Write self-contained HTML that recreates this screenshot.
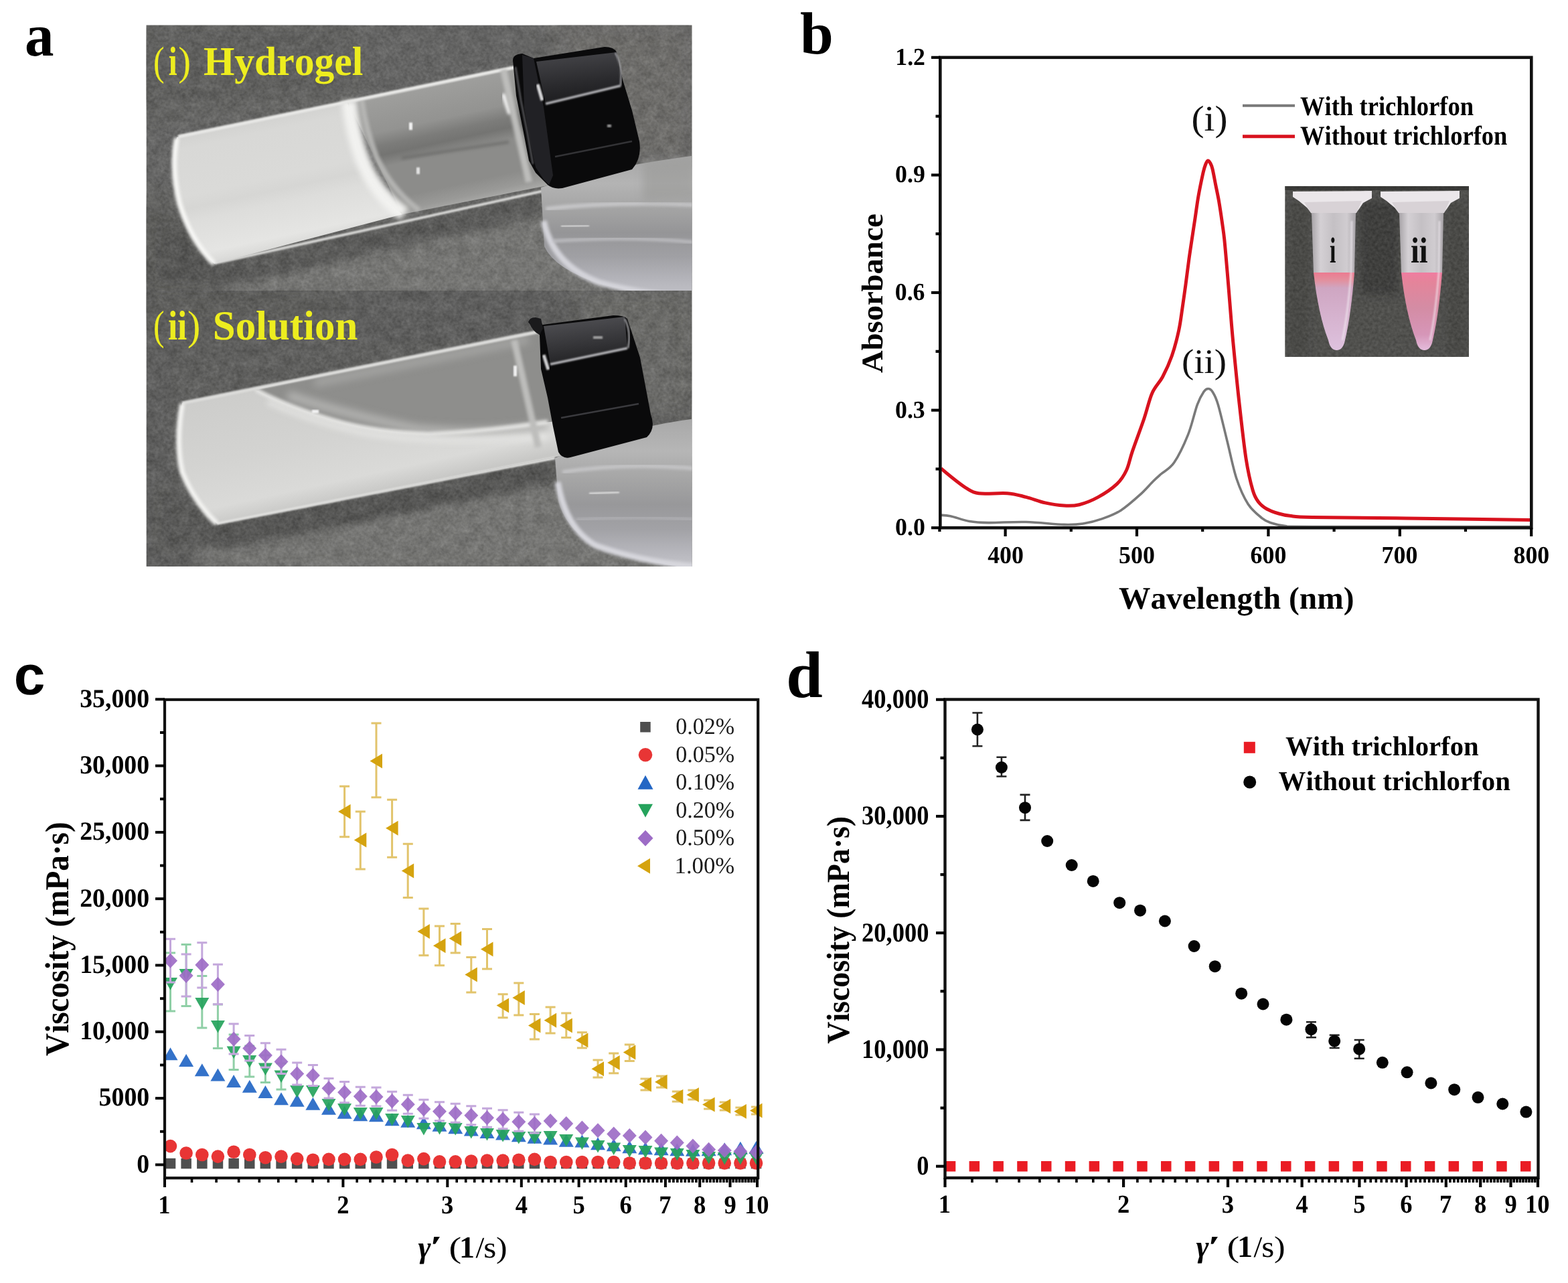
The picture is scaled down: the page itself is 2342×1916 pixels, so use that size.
<!DOCTYPE html>
<html><head><meta charset="utf-8"><title>Figure</title>
<style>html,body{margin:0;padding:0;background:#fff;width:2342px;height:1916px;overflow:hidden}</style>
</head><body>
<svg width="2342" height="1916" viewBox="0 0 2342 1916" style="display:block;font-kerning:none;text-rendering:geometricPrecision">
<rect width="2342" height="1916" fill="#fff"/>
<text x="37.1" y="83" font-family="Liberation Serif, serif" font-size="90" font-weight="700" fill="#000" textLength="43.5" lengthAdjust="spacingAndGlyphs">a</text>
<defs>
<clipPath id="cpA"><rect x="218.5" y="37.5" width="815.0" height="808.5"/></clipPath>
<clipPath id="cpTop"><rect x="218.5" y="37.5" width="815.0" height="396.5"/></clipPath>
<clipPath id="cpBot"><rect x="218.5" y="434" width="815.0" height="412"/></clipPath>
<filter id="blur1" color-interpolation-filters="sRGB" x="-20%" y="-20%" width="140%" height="140%"><feGaussianBlur stdDeviation="1.2"/></filter>
<filter id="blur2" color-interpolation-filters="sRGB" x="-20%" y="-20%" width="140%" height="140%"><feGaussianBlur stdDeviation="2"/></filter>
<filter id="blur4" color-interpolation-filters="sRGB" x="-30%" y="-30%" width="160%" height="160%"><feGaussianBlur stdDeviation="4"/></filter>
<filter id="blur6" color-interpolation-filters="sRGB" x="-30%" y="-30%" width="160%" height="160%"><feGaussianBlur stdDeviation="6"/></filter>
<filter id="blur14" color-interpolation-filters="sRGB" x="-50%" y="-50%" width="200%" height="200%"><feGaussianBlur stdDeviation="14"/></filter>
<filter id="noise" color-interpolation-filters="sRGB" x="0" y="0" width="100%" height="100%"><feTurbulence type="fractalNoise" baseFrequency="0.22" numOctaves="2" seed="7"/><feColorMatrix type="matrix" values="1 0 0 0 0  1 0 0 0 0  1 0 0 0 0  0 0 0 0 1"/></filter>
<filter id="noise2" color-interpolation-filters="sRGB" x="0" y="0" width="100%" height="100%"><feTurbulence type="fractalNoise" baseFrequency="0.06" numOctaves="3" seed="11"/><feColorMatrix type="matrix" values="1 0 0 0 0  1 0 0 0 0  1 0 0 0 0  0 0 0 0 1"/></filter>
<linearGradient id="gel1" gradientUnits="userSpaceOnUse" x1="265" y1="204" x2="306" y2="397"><stop offset="0" stop-color="#d2d2d0"/><stop offset="0.1" stop-color="#d8d8d6"/><stop offset="0.45" stop-color="#dadad8"/><stop offset="0.55" stop-color="#d6d6d4"/><stop offset="0.65" stop-color="#dddddb"/><stop offset="0.9" stop-color="#e5e5e3"/><stop offset="1" stop-color="#d8d8d6"/></linearGradient>
<linearGradient id="clr1" gradientUnits="userSpaceOnUse" x1="555" y1="138" x2="598" y2="335"><stop offset="0" stop-color="#c8c8c6"/><stop offset="0.06" stop-color="#9e9e9c"/><stop offset="0.3" stop-color="#939391"/><stop offset="0.4" stop-color="#7c7c7a"/><stop offset="0.47" stop-color="#747472"/><stop offset="0.56" stop-color="#8c8c8a"/><stop offset="0.8" stop-color="#8c8c8a"/><stop offset="0.9" stop-color="#9a9a98"/><stop offset="1" stop-color="#b8b8b6"/></linearGradient>
<linearGradient id="liq2" gradientUnits="userSpaceOnUse" x1="290" y1="600" x2="330" y2="785"><stop offset="0" stop-color="#cdcdcb"/><stop offset="0.5" stop-color="#d3d3d1"/><stop offset="0.85" stop-color="#dadad8"/><stop offset="1" stop-color="#c8c8c6"/></linearGradient>
<linearGradient id="dish" gradientUnits="userSpaceOnUse" x1="0" y1="232" x2="0" y2="442"><stop offset="0" stop-color="#a6a6a6"/><stop offset="0.2" stop-color="#b4b4b4"/><stop offset="0.38" stop-color="#a4a4a4"/><stop offset="0.55" stop-color="#959597"/><stop offset="0.72" stop-color="#a0a0a4"/><stop offset="0.88" stop-color="#b4b4ba"/><stop offset="1" stop-color="#c2c2c8"/></linearGradient>
<linearGradient id="dish2" gradientUnits="userSpaceOnUse" x1="0" y1="625" x2="0" y2="846"><stop offset="0" stop-color="#a8a8a8"/><stop offset="0.22" stop-color="#b6b6b6"/><stop offset="0.4" stop-color="#a6a6a6"/><stop offset="0.58" stop-color="#98989a"/><stop offset="0.75" stop-color="#a2a2a6"/><stop offset="0.9" stop-color="#b6b6bc"/><stop offset="1" stop-color="#c4c4ca"/></linearGradient>
<linearGradient id="capTop" gradientUnits="userSpaceOnUse" x1="860" y1="75" x2="870" y2="155"><stop offset="0" stop-color="#46464a"/><stop offset="0.6" stop-color="#2a2a2d"/><stop offset="1" stop-color="#1a1a1c"/></linearGradient>
<linearGradient id="capTop2" gradientUnits="userSpaceOnUse" x1="870" y1="472" x2="880" y2="545"><stop offset="0" stop-color="#505054"/><stop offset="0.6" stop-color="#333336"/><stop offset="1" stop-color="#1e1e20"/></linearGradient>
</defs>
<g clip-path="url(#cpA)">
<g clip-path="url(#cpTop)">
<rect x="218.5" y="37.5" width="815.0" height="396.5" fill="#5e5e5c"/>
<g filter="url(#blur14)">
<path d="M820,30 L1040,30 L1040,250 L880,250 Z" fill="#696865"/>
<path d="M200,40 L520,40 L520,140 L200,160 Z" fill="#585856"/>
<path d="M330,400 L812,290 L1040,290 L1040,445 L330,445 Z" fill="#747471"/>
<path d="M200,300 L300,330 L330,440 L200,440 Z" fill="#52524f"/>
</g>
<path d="M300,396 L812,286 L812,322 L320,432 Z" fill="#50504e" filter="url(#blur6)"/>
<path d="M240,330 L320,394 L330,420 L240,420 Z" fill="#4a4a48" filter="url(#blur6)"/>
<rect x="218.5" y="37.5" width="815.0" height="396.5" filter="url(#noise2)" opacity="0.13"/>
<rect x="218.5" y="37.5" width="815.0" height="396.5" filter="url(#noise)" opacity="0.13"/>
<path d="M519,151 L776,98 L818,277 L601,320 Z" fill="url(#clr1)"/>
<path d="M600,236 L760,212" stroke="#6e6e6c" stroke-width="4" filter="url(#blur2)"/>
<path d="M752,140 L762,170" stroke="#f4f4f4" stroke-width="7" filter="url(#blur2)"/>
<path d="M264,205 Q255,250 268,304 Q285,360 320,394 L601,320 Q560,290 540,240 Q525,200 519,151 Z" fill="url(#gel1)"/>
<path d="M521,150 Q527,200 542,240 Q562,290 604,320" fill="none" stroke="#f2f2f0" stroke-width="22" filter="url(#blur4)"/>
<path d="M540,148 Q547,196 563,236 Q585,283 626,314" fill="none" stroke="#b8b8b6" stroke-width="8" filter="url(#blur2)" opacity="0.9"/>
<path d="M266,204 L776,99" stroke="#e8e8e6" stroke-width="5" filter="url(#blur1)"/>
<path d="M321,393 L812,285" stroke="#d8d8d6" stroke-width="4" filter="url(#blur1)"/>
<path d="M264,206 Q255,250 268,304 Q285,360 320,394" fill="none" stroke="#f6f6f4" stroke-width="8" filter="url(#blur2)"/>
<path d="M752,104 L790,272" stroke="#bdbdbb" stroke-width="10" filter="url(#blur2)"/>
<rect x="611" y="183" width="5" height="11" fill="#f4f4f4" filter="url(#blur1)"/>
<rect x="622" y="250" width="5" height="10" fill="#e4e4e4" filter="url(#blur1)"/>
<path d="M808,280 Q900,250 1040,232 L1040,444 Q960,440 900,425 Q828,402 813,368 Z" fill="url(#dish)"/>
<path d="M812,330 Q826,396 895,422 Q960,440 1040,444" fill="none" stroke="#d4d4da" stroke-width="9" filter="url(#blur2)"/>
<path d="M815,312 Q920,300 1040,306" fill="none" stroke="#c8c8ca" stroke-width="6" filter="url(#blur2)"/>
<path d="M838,338 L880,337" stroke="#d0d0d0" stroke-width="3" filter="url(#blur1)"/>
<path d="M826,360 Q940,352 1040,362" fill="none" stroke="#c4c4c8" stroke-width="4" filter="url(#blur2)"/>
<path d="M960,240 L1040,234 L1040,298 L960,300 Z" fill="#9a9a98" opacity="0.6" filter="url(#blur6)"/>
<path d="M766,90 Q766,81 780,80 L797,87 L903,70 Q917,70 921,78 L930,119 L944,165 L955,211 Q959,236 944,253 L840,281 Q826,283 818,276 L800,258 L790,240 L782,198 L771,143 Z" fill="#0a0a0b"/>
<path d="M780,82 L797,87 L812,160 L826,262 L820,276 L812,268 L800,250 L792,210 L783,160 Z" fill="#26262a" opacity="0.85"/>
<path d="M770,100 L778,150 L788,200 L796,245" fill="none" stroke="#58585c" stroke-width="2.5" filter="url(#blur1)"/>
<path d="M803,126 L810,150" stroke="#d8d8da" stroke-width="5" filter="url(#blur1)"/>
<path d="M801,92 L921,78 L927,128 L815,155 Z" fill="url(#capTop)"/>
<path d="M815,155 L927,128" stroke="#b0b0b4" stroke-width="3.5" filter="url(#blur1)"/>
<path d="M919,79 Q929,95 927,128" fill="none" stroke="#9a9a9e" stroke-width="2.5" filter="url(#blur1)"/>
<path d="M829,234 L944,211" stroke="#333336" stroke-width="2.5"/>
<rect x="907" y="186" width="6" height="4" fill="#9a9a9a" filter="url(#blur1)"/>
</g>
<g clip-path="url(#cpBot)">
<rect x="218.5" y="434" width="815.0" height="412" fill="#565654"/>
<g filter="url(#blur14)">
<path d="M300,795 L830,690 L1040,690 L1040,860 L300,860 Z" fill="#737370"/>
<path d="M860,430 L1040,430 L1040,620 L880,620 Z" fill="#646461"/>
<path d="M200,430 L500,430 L500,480 L200,480 Z" fill="#535351"/>
</g>
<path d="M310,784 L829,684 L829,722 L330,822 Z" fill="#4b4b49" filter="url(#blur6)"/>
<path d="M240,730 L324,782 L330,815 L240,815 Z" fill="#4e4e4c" filter="url(#blur6)"/>
<rect x="218.5" y="434" width="815.0" height="412" filter="url(#noise2)" opacity="0.13"/>
<rect x="218.5" y="434" width="815.0" height="412" filter="url(#noise)" opacity="0.13"/>
<path d="M272,602 L812,494 L842,680 L324,782 Q290,750 272,705 Q262,660 272,602 Z" fill="url(#liq2)"/>
<path d="M382,582 L812,494 L836,628 Q720,645 640,648 Q560,645 500,628 Q430,608 382,582 Z" fill="#8e8e8c"/>
<path d="M430,590 Q520,620 620,640 Q720,650 818,636" fill="none" stroke="#b4b4b2" stroke-width="12" filter="url(#blur6)"/>
<path d="M470,572 L789,507" stroke="#a4a4a2" stroke-width="12" filter="url(#blur6)"/>
<path d="M382,582 Q430,608 500,628 Q560,645 640,648 Q720,645 818,630" fill="none" stroke="#e4e4e2" stroke-width="6" filter="url(#blur2)"/>
<path d="M400,600 Q460,628 540,646 Q640,664 818,652" fill="none" stroke="#e8e8e6" stroke-width="8" filter="url(#blur4)" opacity="0.8"/>
<path d="M272,602 L806,495" stroke="#dcdcda" stroke-width="5" filter="url(#blur1)"/>
<path d="M324,782 L829,684" stroke="#e2e2e0" stroke-width="4" filter="url(#blur1)"/>
<path d="M272,603 Q262,660 272,705 Q290,750 324,782" fill="none" stroke="#f2f2f0" stroke-width="8" filter="url(#blur2)"/>
<path d="M768,508 L804,668" stroke="#bdbdbb" stroke-width="10" filter="url(#blur2)"/>
<rect x="767" y="546" width="5" height="16" fill="#f2f2f2" filter="url(#blur1)"/>
<rect x="466" y="612" width="10" height="5" fill="#f2f2f2" filter="url(#blur1)"/>
<path d="M829,684 Q920,640 1040,625 L1040,850 Q960,840 890,815 Q845,790 834,748 Z" fill="url(#dish2)"/>
<path d="M833,720 Q845,790 890,815 Q960,840 1040,846" fill="none" stroke="#d6d6dc" stroke-width="9" filter="url(#blur2)"/>
<path d="M840,705 Q940,690 1040,700" fill="none" stroke="#c8c8ca" stroke-width="5" filter="url(#blur2)"/>
<path d="M880,737 L925,735" stroke="#d8d8d8" stroke-width="3" filter="url(#blur1)"/>
<path d="M860,776 Q950,770 1040,776" fill="none" stroke="#b8b8bc" stroke-width="3" filter="url(#blur2)"/>
<path d="M789,481 Q792,474 806,476 L810,485 L916,471 Q932,471 937,476 L956,534 L972,619 Q980,640 966,653 L852,683 Q840,686 834,675 L826,637 L818,594 L808,551 L806,500 Z" fill="#0a0a0b"/>
<path d="M790,481 Q790,474 800,474 L808,476 L811,490 L806,500 Q796,496 790,481 Z" fill="#1a1a1c"/>
<path d="M812,530 L819,552" stroke="#d0d0d2" stroke-width="5" filter="url(#blur1)"/>
<path d="M812,487 L933,473 L937,520 L822,544 Z" fill="url(#capTop2)"/>
<path d="M822,544 L937,520" stroke="#b4b4b8" stroke-width="3.5" filter="url(#blur1)"/>
<path d="M933,476 Q943,495 938,520" fill="none" stroke="#a0a0a4" stroke-width="2.5" filter="url(#blur1)"/>
<path d="M838,624 L954,603" stroke="#3a3a3e" stroke-width="2.5"/>
<rect x="886" y="502" width="14" height="4" fill="#a0a0a0" filter="url(#blur1)"/>
</g>
<text x="229" y="112.1" font-family="Liberation Serif, serif" font-size="61" font-weight="400" fill="#eded1f" textLength="16.6" lengthAdjust="spacingAndGlyphs">(</text>
<text x="251.8" y="112.1" font-family="Liberation Serif, serif" font-size="61" font-weight="700" fill="#eded1f" textLength="12.9" lengthAdjust="spacingAndGlyphs">i</text>
<text x="266.2" y="112.1" font-family="Liberation Serif, serif" font-size="61" font-weight="400" fill="#eded1f" textLength="18.8" lengthAdjust="spacingAndGlyphs">)</text>
<text x="303.9" y="112.1" font-family="Liberation Serif, serif" font-size="61" font-weight="700" fill="#eded1f" textLength="238.4" lengthAdjust="spacingAndGlyphs">Hydrogel</text>
<text x="229" y="507.1" font-family="Liberation Serif, serif" font-size="62" font-weight="400" fill="#eded1f" textLength="16.6" lengthAdjust="spacingAndGlyphs">(</text>
<text x="250.9" y="507.1" font-family="Liberation Serif, serif" font-size="62" font-weight="700" fill="#eded1f" textLength="28.4" lengthAdjust="spacingAndGlyphs">ii</text>
<text x="280.1" y="507.1" font-family="Liberation Serif, serif" font-size="62" font-weight="400" fill="#eded1f" textLength="19.3" lengthAdjust="spacingAndGlyphs">)</text>
<text x="317.8" y="507.1" font-family="Liberation Serif, serif" font-size="62" font-weight="700" fill="#eded1f" textLength="216.5" lengthAdjust="spacingAndGlyphs">Solution</text>
</g>
<text x="1195" y="79.7" font-family="Liberation Serif, serif" font-size="89" font-weight="700" fill="#000" textLength="49.8" lengthAdjust="spacingAndGlyphs">b</text>
<path d="M1405,769.3 C1407.4,769.5 1412.4,769.2 1419.6,770.7 C1426.8,772.2 1438.5,776.9 1447.9,778.5 C1457.3,780.1 1462.1,780.4 1476.2,780.6 C1490.3,780.8 1513.9,779 1532.7,779.5 C1551.5,780 1575.2,783 1589.3,783.4 C1603.4,783.8 1608.2,783.4 1617.6,782 C1627,780.6 1636.4,778.2 1645.8,774.9 C1655.2,771.6 1664.7,768.2 1674.1,762.2 C1683.5,756.2 1694.3,746.5 1702.4,739.2 C1710.5,731.9 1717.3,723.7 1722.6,718.5 C1727.9,713.3 1728.8,712.6 1734,708 C1739.2,703.4 1747,700.6 1753.7,690.8 C1760.4,681 1768.6,663.8 1774.4,649.4 C1780.2,635 1784.4,615.1 1788.3,604.4 C1792.2,593.7 1795.3,589 1798,585 C1800.7,581 1802.3,580.5 1804.5,580.5 C1806.7,580.5 1808.5,581 1811,585 C1813.5,589 1815.7,591.9 1819.4,604.4 C1823.1,616.9 1828.6,641.3 1833.2,659.7 C1837.8,678.1 1841.8,699.5 1847,715 C1852.2,730.5 1858,743.2 1864.3,753 C1870.6,762.8 1879.2,769.1 1885,773.8 C1890.8,778.5 1893.1,779 1898.9,781 C1904.7,783 1909.8,784.6 1920,785.5 C1930.2,786.4 1899.2,786.3 1960,786.5 C2020.8,786.7 2230.8,786.5 2285,786.5" fill="none" stroke="#7a7a7a" stroke-width="3.6" stroke-linejoin="round"/>
<path d="M1405.5,699.5 C1407.8,701.5 1413.5,706.5 1419.6,711.3 C1425.7,716.1 1435.2,724 1442.3,728.3 C1449.4,732.5 1451.6,735.4 1462,736.8 C1472.4,738.2 1492.7,735.9 1504.5,736.8 C1516.3,737.7 1523.3,740 1532.7,742.4 C1542.1,744.8 1551.6,748.8 1561,750.9 C1570.4,753 1580.8,754.6 1589.3,755.1 C1597.8,755.6 1603.4,755.8 1611.9,753.7 C1620.4,751.6 1630.8,747.6 1640.2,742.4 C1649.6,737.2 1661.3,729.3 1668.4,722.6 C1675.5,715.9 1678.8,710.2 1682.6,702 C1686.4,693.8 1687.1,686.4 1691.5,673.6 C1695.9,660.8 1703.9,639.6 1708.8,625.2 C1713.7,610.8 1716.3,597.4 1720.9,587 C1725.5,576.6 1731.5,572.2 1736.4,563 C1741.3,553.8 1746.2,543.3 1750.2,531.8 C1754.2,520.3 1758,505.8 1760.6,493.8 C1763.2,481.8 1764.3,471.5 1766,460 C1767.7,448.5 1769.4,436.4 1771,424.7 C1772.6,413 1774,401.3 1775.5,390 C1777,378.7 1778.7,368 1780.3,357.1 C1781.9,346.2 1783.6,335.6 1785.2,324.8 C1786.8,314.1 1788.1,303.4 1790,292.6 C1791.9,281.9 1794.8,268.1 1796.5,260.3 C1798.2,252.5 1799.2,249.4 1800.5,246 C1801.8,242.6 1802.8,240.3 1804.1,240 C1805.3,239.7 1806.8,241.9 1808,244 C1809.2,246.1 1809.7,246.9 1811,252.3 C1812.3,257.7 1814.2,268.4 1815.8,276.5 C1817.4,284.6 1819,291.2 1820.6,300.6 C1822.2,310 1824.2,323.5 1825.5,332.9 C1826.8,342.3 1827.4,344.7 1828.7,357.1 C1830,369.5 1831.7,390.2 1833.2,407.4 C1834.7,424.5 1836.1,442.7 1837.5,460 C1838.9,477.3 1839.6,488.1 1841.8,511 C1844,533.9 1847.3,568.7 1850.5,597.5 C1853.7,626.3 1857.5,661.5 1860.9,684 C1864.4,706.5 1868,721.3 1871.2,732.3 C1874.4,743.3 1876.5,745.4 1880,750 C1883.5,754.6 1887,757.2 1892,760 C1897,762.8 1904.2,765.3 1910,767 C1915.8,768.7 1918.2,769.4 1926.5,770.3 C1934.8,771.2 1931.1,771.9 1960,772.5 C1988.9,773.1 2045.8,773.3 2100,774 C2154.2,774.7 2254.2,776.1 2285,776.5" fill="none" stroke="#d8121e" stroke-width="5" stroke-linejoin="round"/>
<rect x="1404.3" y="85.8" width="883" height="702.4" fill="none" stroke="#111" stroke-width="4.6"/>
<line x1="1391" y1="788.2" x2="1404.3" y2="788.2" stroke="#000" stroke-width="4.2"/>
<text x="1337.1" y="799.2" font-family="Liberation Serif, serif" font-size="36.5" font-weight="700" fill="#000" textLength="44.7" lengthAdjust="spacingAndGlyphs">0.0</text>
<line x1="1391" y1="612.6" x2="1404.3" y2="612.6" stroke="#000" stroke-width="4.2"/>
<text x="1337" y="623.6" font-family="Liberation Serif, serif" font-size="36.5" font-weight="700" fill="#000" textLength="44.7" lengthAdjust="spacingAndGlyphs">0.3</text>
<line x1="1391" y1="437" x2="1404.3" y2="437" stroke="#000" stroke-width="4.2"/>
<text x="1336.8" y="448" font-family="Liberation Serif, serif" font-size="36.5" font-weight="700" fill="#000" textLength="44.7" lengthAdjust="spacingAndGlyphs">0.6</text>
<line x1="1391" y1="261.4" x2="1404.3" y2="261.4" stroke="#000" stroke-width="4.2"/>
<text x="1337.1" y="272.4" font-family="Liberation Serif, serif" font-size="36.5" font-weight="700" fill="#000" textLength="44.7" lengthAdjust="spacingAndGlyphs">0.9</text>
<line x1="1391" y1="85.8" x2="1404.3" y2="85.8" stroke="#000" stroke-width="4.2"/>
<text x="1337.3" y="96.8" font-family="Liberation Serif, serif" font-size="36.5" font-weight="700" fill="#000" textLength="44.7" lengthAdjust="spacingAndGlyphs">1.2</text>
<line x1="1397.5" y1="700.4" x2="1404.3" y2="700.4" stroke="#000" stroke-width="4.2"/>
<line x1="1397.5" y1="524.8" x2="1404.3" y2="524.8" stroke="#000" stroke-width="4.2"/>
<line x1="1397.5" y1="349.2" x2="1404.3" y2="349.2" stroke="#000" stroke-width="4.2"/>
<line x1="1397.5" y1="173.6" x2="1404.3" y2="173.6" stroke="#000" stroke-width="4.2"/>
<line x1="1501.6" y1="788.2" x2="1501.6" y2="801" stroke="#000" stroke-width="4.2"/>
<text x="1475.2" y="840.5" font-family="Liberation Serif, serif" font-size="36.5" font-weight="700" fill="#000" textLength="53.7" lengthAdjust="spacingAndGlyphs">400</text>
<line x1="1698" y1="788.2" x2="1698" y2="801" stroke="#000" stroke-width="4.2"/>
<text x="1671.1" y="840.5" font-family="Liberation Serif, serif" font-size="36.5" font-weight="700" fill="#000" textLength="53.7" lengthAdjust="spacingAndGlyphs">500</text>
<line x1="1894.4" y1="788.2" x2="1894.4" y2="801" stroke="#000" stroke-width="4.2"/>
<text x="1867.6" y="840.5" font-family="Liberation Serif, serif" font-size="36.5" font-weight="700" fill="#000" textLength="53.7" lengthAdjust="spacingAndGlyphs">600</text>
<line x1="2090.8" y1="788.2" x2="2090.8" y2="801" stroke="#000" stroke-width="4.2"/>
<text x="2063.6" y="840.5" font-family="Liberation Serif, serif" font-size="36.5" font-weight="700" fill="#000" textLength="53.7" lengthAdjust="spacingAndGlyphs">700</text>
<line x1="2287.2" y1="788.2" x2="2287.2" y2="801" stroke="#000" stroke-width="4.2"/>
<text x="2260.5" y="840.5" font-family="Liberation Serif, serif" font-size="36.5" font-weight="700" fill="#000" textLength="53.7" lengthAdjust="spacingAndGlyphs">800</text>
<line x1="1403.4" y1="788.2" x2="1403.4" y2="794" stroke="#000" stroke-width="4.2"/>
<line x1="1599.8" y1="788.2" x2="1599.8" y2="794" stroke="#000" stroke-width="4.2"/>
<line x1="1796.2" y1="788.2" x2="1796.2" y2="794" stroke="#000" stroke-width="4.2"/>
<line x1="1992.6" y1="788.2" x2="1992.6" y2="794" stroke="#000" stroke-width="4.2"/>
<line x1="2189" y1="788.2" x2="2189" y2="794" stroke="#000" stroke-width="4.2"/>
<text transform="translate(1317.6,556.5) rotate(-90)" x="-0.5" y="0" font-family="Liberation Serif, serif" font-size="45" font-weight="700" textLength="238" lengthAdjust="spacingAndGlyphs">Absorbance</text>
<text x="1671" y="909.4" font-family="Liberation Serif, serif" font-size="47" font-weight="700" fill="#000" textLength="351.5" lengthAdjust="spacingAndGlyphs">Wavelength (nm)</text>
<line x1="1856" y1="157.7" x2="1934" y2="157.7" stroke="#7a7a7a" stroke-width="4"/>
<line x1="1856" y1="203.7" x2="1934" y2="203.7" stroke="#d8121e" stroke-width="5"/>
<text x="1942" y="171.6" font-family="Liberation Serif, serif" font-size="40.6" font-weight="700" fill="#000" textLength="259.2" lengthAdjust="spacingAndGlyphs">With trichlorfon</text>
<text x="1942" y="216.3" font-family="Liberation Serif, serif" font-size="40.6" font-weight="700" fill="#000" textLength="309.4" lengthAdjust="spacingAndGlyphs">Without trichlorfon</text>
<text x="1779.5" y="195" font-family="Liberation Serif, serif" font-size="53.8" font-weight="400" fill="#111" textLength="54" lengthAdjust="spacingAndGlyphs">(i)</text>
<text x="1765.1" y="557.1" font-family="Liberation Serif, serif" font-size="51.4" font-weight="400" fill="#111" textLength="67" lengthAdjust="spacingAndGlyphs">(ii)</text>
<defs><clipPath id="cpI"><rect x="1919.2" y="278" width="274.79999999999995" height="255"/></clipPath>
<linearGradient id="tubeP1" x1="0" y1="0" x2="0" y2="1"><stop offset="0" stop-color="#ec7a90"/><stop offset="0.1" stop-color="#e2909e"/><stop offset="0.2" stop-color="#cfa6c2"/><stop offset="1" stop-color="#dec2de"/></linearGradient>
<linearGradient id="tubeP2" x1="0" y1="0" x2="0" y2="1"><stop offset="0" stop-color="#f07ca0"/><stop offset="0.12" stop-color="#e4849a"/><stop offset="0.45" stop-color="#d48ca4"/><stop offset="0.8" stop-color="#d696b8"/><stop offset="1" stop-color="#e4bcdc"/></linearGradient>
<linearGradient id="tubeB" x1="0" y1="0" x2="1" y2="0"><stop offset="0" stop-color="#a8a4a8"/><stop offset="0.2" stop-color="#d4d0d4"/><stop offset="0.5" stop-color="#c4c0c4"/><stop offset="0.8" stop-color="#d0ccd0"/><stop offset="1" stop-color="#a8a4a8"/></linearGradient>
</defs>
<g clip-path="url(#cpI)">
<rect x="1919.2" y="278" width="274.79999999999995" height="255" fill="#4a4a47"/>
<g filter="url(#blur6)"><rect x="2032" y="300" width="56" height="140" fill="#363634"/><rect x="1925" y="300" width="30" height="230" fill="#42423f"/><rect x="2160" y="300" width="30" height="230" fill="#42423f"/></g>
<rect x="1919.2" y="278" width="274.79999999999995" height="255" filter="url(#noise)" opacity="0.13"/>
<rect x="1919.2" y="278" width="274.79999999999995" height="6" fill="#2a2a28" opacity="0.6"/>
<polygon points="1931,286 2049,285 2049,296 2036,303 2030,312 2024,320 1960,320 1952,310 1940,300 1931,294" fill="#ebe7ea"/>
<polygon points="1948,302 2034,300 2026,318 1958,318" fill="#d8d2d6"/>
<polygon points="1959,318 2025,318 2023,408 1962,408" fill="url(#tubeB)"/>
<path d="M1962,407 L2023,407 Q2018,470 2009,508 Q2006,523 1996.5,523 Q1987,523 1984,508 Q1969,470 1962,407 Z" fill="url(#tubeP1)"/>
<path d="M1964,409 L2021,409" stroke="#f47a92" stroke-width="5" filter="url(#blur1)"/>
<path d="M2019,330 L2018,408 Q2013,470 2005,508" fill="none" stroke="#f4eef4" stroke-width="3" opacity="0.6" filter="url(#blur1)"/>
<polygon points="2062,286 2180,285 2180,296 2167,303 2161,312 2155,320 2091,320 2083,310 2071,300 2062,294" fill="#ebe7ea"/>
<polygon points="2079,302 2165,300 2157,318 2089,318" fill="#d8d2d6"/>
<polygon points="2090,318 2156,318 2154,408 2093,408" fill="url(#tubeB)"/>
<path d="M2093,407 L2154,407 Q2149,470 2140,508 Q2137,523 2127.5,523 Q2118,523 2115,508 Q2100,470 2093,407 Z" fill="url(#tubeP2)"/>
<path d="M2095,409 L2152,409" stroke="#f47a92" stroke-width="5" filter="url(#blur1)"/>
<path d="M2150,330 L2149,408 Q2144,470 2136,508" fill="none" stroke="#f4eef4" stroke-width="3" opacity="0.6" filter="url(#blur1)"/>
</g>
<text x="1986.1" y="392" font-family="Liberation Serif, serif" font-size="54" font-weight="700" fill="#111" textLength="9.4" lengthAdjust="spacingAndGlyphs">i</text>
<text x="2107" y="392" font-family="Liberation Serif, serif" font-size="54" font-weight="700" fill="#111" textLength="25.7" lengthAdjust="spacingAndGlyphs">ii</text>
<text x="20.7" y="1037" font-family="Liberation Sans, sans-serif" font-size="82.7" font-weight="700" fill="#000" textLength="46.7" lengthAdjust="spacingAndGlyphs">c</text>
<rect x="246.8" y="1729.8" width="15.5" height="15.5" fill="#4f4f4f"/>
<rect x="270.4" y="1729.8" width="15.5" height="15.5" fill="#4f4f4f"/>
<rect x="294.1" y="1729.8" width="15.5" height="15.5" fill="#4f4f4f"/>
<rect x="317.7" y="1729.8" width="15.5" height="15.5" fill="#4f4f4f"/>
<rect x="341.4" y="1729.8" width="15.5" height="15.5" fill="#4f4f4f"/>
<rect x="365" y="1729.8" width="15.5" height="15.5" fill="#4f4f4f"/>
<rect x="388.6" y="1729.8" width="15.5" height="15.5" fill="#4f4f4f"/>
<rect x="412.3" y="1729.8" width="15.5" height="15.5" fill="#4f4f4f"/>
<rect x="435.9" y="1729.8" width="15.5" height="15.5" fill="#4f4f4f"/>
<rect x="459.6" y="1729.8" width="15.5" height="15.5" fill="#4f4f4f"/>
<rect x="483.2" y="1729.8" width="15.5" height="15.5" fill="#4f4f4f"/>
<rect x="506.9" y="1729.8" width="15.5" height="15.5" fill="#4f4f4f"/>
<rect x="530.5" y="1729.8" width="15.5" height="15.5" fill="#4f4f4f"/>
<rect x="554.2" y="1729.8" width="15.5" height="15.5" fill="#4f4f4f"/>
<rect x="577.8" y="1729.8" width="15.5" height="15.5" fill="#4f4f4f"/>
<rect x="601.5" y="1729.8" width="15.5" height="15.5" fill="#4f4f4f"/>
<rect x="625.1" y="1729.8" width="15.5" height="15.5" fill="#4f4f4f"/>
<rect x="648.8" y="1729.8" width="15.5" height="15.5" fill="#4f4f4f"/>
<rect x="672.5" y="1729.8" width="15.5" height="15.5" fill="#4f4f4f"/>
<rect x="696.1" y="1729.8" width="15.5" height="15.5" fill="#4f4f4f"/>
<rect x="719.8" y="1729.8" width="15.5" height="15.5" fill="#4f4f4f"/>
<rect x="743.4" y="1729.8" width="15.5" height="15.5" fill="#4f4f4f"/>
<rect x="767" y="1729.8" width="15.5" height="15.5" fill="#4f4f4f"/>
<rect x="790.7" y="1729.8" width="15.5" height="15.5" fill="#4f4f4f"/>
<rect x="814.3" y="1729.8" width="15.5" height="15.5" fill="#4f4f4f"/>
<rect x="838" y="1729.8" width="15.5" height="15.5" fill="#4f4f4f"/>
<rect x="861.6" y="1729.8" width="15.5" height="15.5" fill="#4f4f4f"/>
<rect x="885.3" y="1729.8" width="15.5" height="15.5" fill="#4f4f4f"/>
<rect x="908.9" y="1729.8" width="15.5" height="15.5" fill="#4f4f4f"/>
<rect x="932.6" y="1729.8" width="15.5" height="15.5" fill="#4f4f4f"/>
<rect x="956.2" y="1729.8" width="15.5" height="15.5" fill="#4f4f4f"/>
<rect x="979.9" y="1729.8" width="15.5" height="15.5" fill="#4f4f4f"/>
<rect x="1003.5" y="1729.8" width="15.5" height="15.5" fill="#4f4f4f"/>
<rect x="1027.2" y="1729.8" width="15.5" height="15.5" fill="#4f4f4f"/>
<rect x="1050.8" y="1729.8" width="15.5" height="15.5" fill="#4f4f4f"/>
<rect x="1074.5" y="1729.8" width="15.5" height="15.5" fill="#4f4f4f"/>
<rect x="1098.2" y="1729.8" width="15.5" height="15.5" fill="#4f4f4f"/>
<rect x="1121.8" y="1729.8" width="15.5" height="15.5" fill="#4f4f4f"/>
<circle cx="254.5" cy="1711.6" r="9.8" fill="#e83535"/>
<circle cx="278.1" cy="1722" r="9.8" fill="#e83535"/>
<circle cx="301.8" cy="1724.5" r="9.8" fill="#e83535"/>
<circle cx="325.4" cy="1727.1" r="9.8" fill="#e83535"/>
<circle cx="349.1" cy="1720.2" r="9.8" fill="#e83535"/>
<circle cx="372.8" cy="1724.5" r="9.8" fill="#e83535"/>
<circle cx="396.4" cy="1728.8" r="9.8" fill="#e83535"/>
<circle cx="420" cy="1727.1" r="9.8" fill="#e83535"/>
<circle cx="443.7" cy="1730.6" r="9.8" fill="#e83535"/>
<circle cx="467.4" cy="1732.3" r="9.8" fill="#e83535"/>
<circle cx="491" cy="1731.4" r="9.8" fill="#e83535"/>
<circle cx="514.6" cy="1731.4" r="9.8" fill="#e83535"/>
<circle cx="538.3" cy="1731.4" r="9.8" fill="#e83535"/>
<circle cx="562" cy="1728" r="9.8" fill="#e83535"/>
<circle cx="585.6" cy="1724.5" r="9.8" fill="#e83535"/>
<circle cx="609.2" cy="1733.1" r="9.8" fill="#e83535"/>
<circle cx="632.9" cy="1730.6" r="9.8" fill="#e83535"/>
<circle cx="656.5" cy="1734.9" r="9.8" fill="#e83535"/>
<circle cx="680.2" cy="1734.9" r="9.8" fill="#e83535"/>
<circle cx="703.8" cy="1734" r="9.8" fill="#e83535"/>
<circle cx="727.5" cy="1733.1" r="9.8" fill="#e83535"/>
<circle cx="751.1" cy="1733.1" r="9.8" fill="#e83535"/>
<circle cx="774.8" cy="1732.3" r="9.8" fill="#e83535"/>
<circle cx="798.4" cy="1731.4" r="9.8" fill="#e83535"/>
<circle cx="822.1" cy="1735.5" r="9.8" fill="#e83535"/>
<circle cx="845.8" cy="1735.5" r="9.8" fill="#e83535"/>
<circle cx="869.4" cy="1735.5" r="9.8" fill="#e83535"/>
<circle cx="893" cy="1735.5" r="9.8" fill="#e83535"/>
<circle cx="916.7" cy="1735.5" r="9.8" fill="#e83535"/>
<circle cx="940.3" cy="1737" r="9.8" fill="#e83535"/>
<circle cx="964" cy="1737" r="9.8" fill="#e83535"/>
<circle cx="987.6" cy="1737" r="9.8" fill="#e83535"/>
<circle cx="1011.3" cy="1737" r="9.8" fill="#e83535"/>
<circle cx="1034.9" cy="1737" r="9.8" fill="#e83535"/>
<circle cx="1058.6" cy="1737" r="9.8" fill="#e83535"/>
<circle cx="1082.2" cy="1737" r="9.8" fill="#e83535"/>
<circle cx="1105.9" cy="1737" r="9.8" fill="#e83535"/>
<circle cx="1129.5" cy="1737" r="9.8" fill="#e83535"/>
<path d="M254.5,1564.2L265.5,1583.2L243.5,1583.2Z" fill="#2366c4" fill-opacity="0.92"/>
<path d="M278.1,1573.9L289.1,1592.9L267.1,1592.9Z" fill="#2366c4" fill-opacity="0.92"/>
<path d="M301.8,1588.2L312.8,1607.2L290.8,1607.2Z" fill="#2366c4" fill-opacity="0.92"/>
<path d="M325.4,1595.5L336.4,1614.5L314.4,1614.5Z" fill="#2366c4" fill-opacity="0.92"/>
<path d="M349.1,1605L360.1,1624L338.1,1624Z" fill="#2366c4" fill-opacity="0.92"/>
<path d="M372.8,1612.7L383.8,1631.7L361.8,1631.7Z" fill="#2366c4" fill-opacity="0.92"/>
<path d="M396.4,1620.9L407.4,1639.9L385.4,1639.9Z" fill="#2366c4" fill-opacity="0.92"/>
<path d="M420,1631.2L431,1650.2L409,1650.2Z" fill="#2366c4" fill-opacity="0.92"/>
<path d="M443.7,1633.7L454.7,1652.7L432.7,1652.7Z" fill="#2366c4" fill-opacity="0.92"/>
<path d="M467.4,1638.7L478.4,1657.7L456.4,1657.7Z" fill="#2366c4" fill-opacity="0.92"/>
<path d="M491,1645.7L502,1664.7L480,1664.7Z" fill="#2366c4" fill-opacity="0.92"/>
<path d="M514.6,1651.7L525.6,1670.7L503.6,1670.7Z" fill="#2366c4" fill-opacity="0.92"/>
<path d="M538.3,1655.2L549.3,1674.2L527.3,1674.2Z" fill="#2366c4" fill-opacity="0.92"/>
<path d="M562,1656.2L573,1675.2L551,1675.2Z" fill="#2366c4" fill-opacity="0.92"/>
<path d="M585.6,1662.2L596.6,1681.2L574.6,1681.2Z" fill="#2366c4" fill-opacity="0.92"/>
<path d="M609.2,1664.7L620.2,1683.7L598.2,1683.7Z" fill="#2366c4" fill-opacity="0.92"/>
<path d="M632.9,1667.2L643.9,1686.2L621.9,1686.2Z" fill="#2366c4" fill-opacity="0.92"/>
<path d="M656.5,1670.7L667.5,1689.7L645.5,1689.7Z" fill="#2366c4" fill-opacity="0.92"/>
<path d="M680.2,1674.2L691.2,1693.2L669.2,1693.2Z" fill="#2366c4" fill-opacity="0.92"/>
<path d="M703.8,1677.6L714.8,1696.6L692.8,1696.6Z" fill="#2366c4" fill-opacity="0.92"/>
<path d="M727.5,1681L738.5,1700L716.5,1700Z" fill="#2366c4" fill-opacity="0.92"/>
<path d="M751.1,1683.6L762.1,1702.6L740.1,1702.6Z" fill="#2366c4" fill-opacity="0.92"/>
<path d="M774.8,1686.2L785.8,1705.2L763.8,1705.2Z" fill="#2366c4" fill-opacity="0.92"/>
<path d="M798.4,1688.7L809.4,1707.7L787.4,1707.7Z" fill="#2366c4" fill-opacity="0.92"/>
<path d="M822.1,1690.5L833.1,1709.5L811.1,1709.5Z" fill="#2366c4" fill-opacity="0.92"/>
<path d="M845.8,1693.7L856.8,1712.7L834.8,1712.7Z" fill="#2366c4" fill-opacity="0.92"/>
<path d="M869.4,1694.5L880.4,1713.5L858.4,1713.5Z" fill="#2366c4" fill-opacity="0.92"/>
<path d="M893,1698.2L904,1717.2L882,1717.2Z" fill="#2366c4" fill-opacity="0.92"/>
<path d="M916.7,1700.2L927.7,1719.2L905.7,1719.2Z" fill="#2366c4" fill-opacity="0.92"/>
<path d="M940.3,1703.2L951.3,1722.2L929.3,1722.2Z" fill="#2366c4" fill-opacity="0.92"/>
<path d="M964,1705.2L975,1724.2L953,1724.2Z" fill="#2366c4" fill-opacity="0.92"/>
<path d="M987.6,1706.2L998.6,1725.2L976.6,1725.2Z" fill="#2366c4" fill-opacity="0.92"/>
<path d="M1011.3,1707.2L1022.3,1726.2L1000.3,1726.2Z" fill="#2366c4" fill-opacity="0.92"/>
<path d="M1034.9,1707.7L1045.9,1726.7L1023.9,1726.7Z" fill="#2366c4" fill-opacity="0.92"/>
<path d="M1058.6,1707.2L1069.6,1726.2L1047.6,1726.2Z" fill="#2366c4" fill-opacity="0.92"/>
<path d="M1082.2,1706.2L1093.2,1725.2L1071.2,1725.2Z" fill="#2366c4" fill-opacity="0.92"/>
<path d="M1105.9,1704.7L1116.9,1723.7L1094.9,1723.7Z" fill="#2366c4" fill-opacity="0.92"/>
<path d="M1129.5,1703.9L1140.5,1722.9L1118.5,1722.9Z" fill="#2366c4" fill-opacity="0.92"/>
<path d="M254.5,1423V1510M247,1423h15M247,1510h15" stroke="#8fcfa6" stroke-width="3" fill="none"/>
<path d="M244,1460L265,1460L254.5,1478.5Z" fill="#25a35c" fill-opacity="0.92"/>
<path d="M278.1,1410.6V1502.5M270.6,1410.6h15M270.6,1502.5h15" stroke="#8fcfa6" stroke-width="3" fill="none"/>
<path d="M267.6,1447L288.6,1447L278.1,1465.5Z" fill="#25a35c" fill-opacity="0.92"/>
<path d="M301.8,1457.6V1535M294.3,1457.6h15M294.3,1535h15" stroke="#8fcfa6" stroke-width="3" fill="none"/>
<path d="M291.3,1490L312.3,1490L301.8,1508.5Z" fill="#25a35c" fill-opacity="0.92"/>
<path d="M325.4,1500V1565.5M317.9,1500h15M317.9,1565.5h15" stroke="#8fcfa6" stroke-width="3" fill="none"/>
<path d="M314.9,1524L335.9,1524L325.4,1542.5Z" fill="#25a35c" fill-opacity="0.92"/>
<path d="M349.1,1545V1597.5M341.6,1545h15M341.6,1597.5h15" stroke="#8fcfa6" stroke-width="3" fill="none"/>
<path d="M338.6,1562.5L359.6,1562.5L349.1,1581Z" fill="#25a35c" fill-opacity="0.92"/>
<path d="M372.8,1562V1608M365.2,1562h15M365.2,1608h15" stroke="#8fcfa6" stroke-width="3" fill="none"/>
<path d="M362.2,1576L383.2,1576L372.8,1594.5Z" fill="#25a35c" fill-opacity="0.92"/>
<path d="M396.4,1576V1616.5M388.9,1576h15M388.9,1616.5h15" stroke="#8fcfa6" stroke-width="3" fill="none"/>
<path d="M385.9,1587.5L406.9,1587.5L396.4,1606Z" fill="#25a35c" fill-opacity="0.92"/>
<path d="M420,1588V1627M412.5,1588h15M412.5,1627h15" stroke="#8fcfa6" stroke-width="3" fill="none"/>
<path d="M409.5,1598.5L430.5,1598.5L420,1617Z" fill="#25a35c" fill-opacity="0.92"/>
<path d="M433.2,1621L454.2,1621L443.7,1639.5Z" fill="#25a35c" fill-opacity="0.92"/>
<path d="M456.9,1621L477.9,1621L467.4,1639.5Z" fill="#25a35c" fill-opacity="0.92"/>
<path d="M480.5,1641L501.5,1641L491,1659.5Z" fill="#25a35c" fill-opacity="0.92"/>
<path d="M504.1,1648L525.1,1648L514.6,1666.5Z" fill="#25a35c" fill-opacity="0.92"/>
<path d="M527.8,1654L548.8,1654L538.3,1672.5Z" fill="#25a35c" fill-opacity="0.92"/>
<path d="M551.5,1654L572.5,1654L562,1672.5Z" fill="#25a35c" fill-opacity="0.92"/>
<path d="M575.1,1663L596.1,1663L585.6,1681.5Z" fill="#25a35c" fill-opacity="0.92"/>
<path d="M598.8,1666L619.8,1666L609.2,1684.5Z" fill="#25a35c" fill-opacity="0.92"/>
<path d="M622.4,1677L643.4,1677L632.9,1695.5Z" fill="#25a35c" fill-opacity="0.92"/>
<path d="M646,1676L667,1676L656.5,1694.5Z" fill="#25a35c" fill-opacity="0.92"/>
<path d="M669.7,1677L690.7,1677L680.2,1695.5Z" fill="#25a35c" fill-opacity="0.92"/>
<path d="M693.3,1682L714.3,1682L703.8,1700.5Z" fill="#25a35c" fill-opacity="0.92"/>
<path d="M717,1685L738,1685L727.5,1703.5Z" fill="#25a35c" fill-opacity="0.92"/>
<path d="M740.6,1687L761.6,1687L751.1,1705.5Z" fill="#25a35c" fill-opacity="0.92"/>
<path d="M764.3,1690L785.3,1690L774.8,1708.5Z" fill="#25a35c" fill-opacity="0.92"/>
<path d="M787.9,1690L808.9,1690L798.4,1708.5Z" fill="#25a35c" fill-opacity="0.92"/>
<path d="M811.6,1689L832.6,1689L822.1,1707.5Z" fill="#25a35c" fill-opacity="0.92"/>
<path d="M835.2,1694L856.2,1694L845.8,1712.5Z" fill="#25a35c" fill-opacity="0.92"/>
<path d="M858.9,1698.5L879.9,1698.5L869.4,1717Z" fill="#25a35c" fill-opacity="0.92"/>
<path d="M882.5,1703L903.5,1703L893,1721.5Z" fill="#25a35c" fill-opacity="0.92"/>
<path d="M906.2,1706.5L927.2,1706.5L916.7,1725Z" fill="#25a35c" fill-opacity="0.92"/>
<path d="M929.8,1710L950.8,1710L940.3,1728.5Z" fill="#25a35c" fill-opacity="0.92"/>
<path d="M953.5,1711L974.5,1711L964,1729.5Z" fill="#25a35c" fill-opacity="0.92"/>
<path d="M977.1,1713.5L998.1,1713.5L987.6,1732Z" fill="#25a35c" fill-opacity="0.92"/>
<path d="M1000.8,1715L1021.8,1715L1011.3,1733.5Z" fill="#25a35c" fill-opacity="0.92"/>
<path d="M1024.4,1717L1045.4,1717L1034.9,1735.5Z" fill="#25a35c" fill-opacity="0.92"/>
<path d="M1048.1,1720L1069.1,1720L1058.6,1738.5Z" fill="#25a35c" fill-opacity="0.92"/>
<path d="M1071.8,1721L1092.8,1721L1082.2,1739.5Z" fill="#25a35c" fill-opacity="0.92"/>
<path d="M1095.4,1721L1116.4,1721L1105.9,1739.5Z" fill="#25a35c" fill-opacity="0.92"/>
<path d="M1119,1721L1140,1721L1129.5,1739.5Z" fill="#25a35c" fill-opacity="0.92"/>
<path d="M254.5,1402.3V1467M247,1402.3h15M247,1467h15" stroke="#c4a8dc" stroke-width="3" fill="none"/>
<path d="M254.5,1423.8L265,1434.8L254.5,1445.8L244,1434.8Z" fill="#9d6cc6" fill-opacity="0.92"/>
<path d="M278.1,1425V1488M270.6,1425h15M270.6,1488h15" stroke="#c4a8dc" stroke-width="3" fill="none"/>
<path d="M278.1,1445.9L288.6,1456.9L278.1,1467.9L267.6,1456.9Z" fill="#9d6cc6" fill-opacity="0.92"/>
<path d="M301.8,1407.8V1474.9M294.3,1407.8h15M294.3,1474.9h15" stroke="#c4a8dc" stroke-width="3" fill="none"/>
<path d="M301.8,1430L312.3,1441L301.8,1452L291.3,1441Z" fill="#9d6cc6" fill-opacity="0.92"/>
<path d="M325.4,1440.3V1499.8M317.9,1440.3h15M317.9,1499.8h15" stroke="#c4a8dc" stroke-width="3" fill="none"/>
<path d="M325.4,1459L335.9,1470L325.4,1481L314.9,1470Z" fill="#9d6cc6" fill-opacity="0.92"/>
<path d="M349.1,1529V1574M341.6,1529h15M341.6,1574h15" stroke="#c4a8dc" stroke-width="3" fill="none"/>
<path d="M349.1,1540.7L359.6,1551.7L349.1,1562.7L338.6,1551.7Z" fill="#9d6cc6" fill-opacity="0.92"/>
<path d="M372.8,1546.5V1584M365.2,1546.5h15M365.2,1584h15" stroke="#c4a8dc" stroke-width="3" fill="none"/>
<path d="M372.8,1554.5L383.2,1565.5L372.8,1576.5L362.2,1565.5Z" fill="#9d6cc6" fill-opacity="0.92"/>
<path d="M396.4,1557.8V1594M388.9,1557.8h15M388.9,1594h15" stroke="#c4a8dc" stroke-width="3" fill="none"/>
<path d="M396.4,1564.9L406.9,1575.9L396.4,1586.9L385.9,1575.9Z" fill="#9d6cc6" fill-opacity="0.92"/>
<path d="M420,1567.3V1603.5M412.5,1567.3h15M412.5,1603.5h15" stroke="#c4a8dc" stroke-width="3" fill="none"/>
<path d="M420,1574.4L430.5,1585.4L420,1596.4L409.5,1585.4Z" fill="#9d6cc6" fill-opacity="0.92"/>
<path d="M443.7,1587V1620M436.2,1587h15M436.2,1620h15" stroke="#c4a8dc" stroke-width="3" fill="none"/>
<path d="M443.7,1592.6L454.2,1603.6L443.7,1614.6L433.2,1603.6Z" fill="#9d6cc6" fill-opacity="0.92"/>
<path d="M467.4,1590.6V1621.6M459.9,1590.6h15M459.9,1621.6h15" stroke="#c4a8dc" stroke-width="3" fill="none"/>
<path d="M467.4,1595.1L477.9,1606.1L467.4,1617.1L456.9,1606.1Z" fill="#9d6cc6" fill-opacity="0.92"/>
<path d="M491,1610.5V1640M483.5,1610.5h15M483.5,1640h15" stroke="#c4a8dc" stroke-width="3" fill="none"/>
<path d="M491,1614.2L501.5,1625.2L491,1636.2L480.5,1625.2Z" fill="#9d6cc6" fill-opacity="0.92"/>
<path d="M514.6,1615.6V1646.8M507.1,1615.6h15M507.1,1646.8h15" stroke="#c4a8dc" stroke-width="3" fill="none"/>
<path d="M514.6,1620.2L525.1,1631.2L514.6,1642.2L504.1,1631.2Z" fill="#9d6cc6" fill-opacity="0.92"/>
<path d="M538.3,1623.2V1651.2M530.8,1623.2h15M530.8,1651.2h15" stroke="#c4a8dc" stroke-width="3" fill="none"/>
<path d="M538.3,1626.2L548.8,1637.2L538.3,1648.2L527.8,1637.2Z" fill="#9d6cc6" fill-opacity="0.92"/>
<path d="M562,1624.1V1652.1M554.5,1624.1h15M554.5,1652.1h15" stroke="#c4a8dc" stroke-width="3" fill="none"/>
<path d="M562,1627.1L572.5,1638.1L562,1649.1L551.5,1638.1Z" fill="#9d6cc6" fill-opacity="0.92"/>
<path d="M585.6,1630.2V1658.2M578.1,1630.2h15M578.1,1658.2h15" stroke="#c4a8dc" stroke-width="3" fill="none"/>
<path d="M585.6,1633.2L596.1,1644.2L585.6,1655.2L575.1,1644.2Z" fill="#9d6cc6" fill-opacity="0.92"/>
<path d="M609.2,1635.3V1663.3M601.8,1635.3h15M601.8,1663.3h15" stroke="#c4a8dc" stroke-width="3" fill="none"/>
<path d="M609.2,1638.3L619.8,1649.3L609.2,1660.3L598.8,1649.3Z" fill="#9d6cc6" fill-opacity="0.92"/>
<path d="M632.9,1642.3V1670.3M625.4,1642.3h15M625.4,1670.3h15" stroke="#c4a8dc" stroke-width="3" fill="none"/>
<path d="M632.9,1645.3L643.4,1656.3L632.9,1667.3L622.4,1656.3Z" fill="#9d6cc6" fill-opacity="0.92"/>
<path d="M656.5,1645.7V1673.7M649,1645.7h15M649,1673.7h15" stroke="#c4a8dc" stroke-width="3" fill="none"/>
<path d="M656.5,1648.7L667,1659.7L656.5,1670.7L646,1659.7Z" fill="#9d6cc6" fill-opacity="0.92"/>
<path d="M680.2,1648.3V1676.3M672.7,1648.3h15M672.7,1676.3h15" stroke="#c4a8dc" stroke-width="3" fill="none"/>
<path d="M680.2,1651.3L690.7,1662.3L680.2,1673.3L669.7,1662.3Z" fill="#9d6cc6" fill-opacity="0.92"/>
<path d="M703.8,1651.8V1679.8M696.3,1651.8h15M696.3,1679.8h15" stroke="#c4a8dc" stroke-width="3" fill="none"/>
<path d="M703.8,1654.8L714.3,1665.8L703.8,1676.8L693.3,1665.8Z" fill="#9d6cc6" fill-opacity="0.92"/>
<path d="M727.5,1655.2V1683.2M720,1655.2h15M720,1683.2h15" stroke="#c4a8dc" stroke-width="3" fill="none"/>
<path d="M727.5,1658.2L738,1669.2L727.5,1680.2L717,1669.2Z" fill="#9d6cc6" fill-opacity="0.92"/>
<path d="M751.1,1657.8V1685.8M743.6,1657.8h15M743.6,1685.8h15" stroke="#c4a8dc" stroke-width="3" fill="none"/>
<path d="M751.1,1660.8L761.6,1671.8L751.1,1682.8L740.6,1671.8Z" fill="#9d6cc6" fill-opacity="0.92"/>
<path d="M774.8,1661.3V1689.3M767.3,1661.3h15M767.3,1689.3h15" stroke="#c4a8dc" stroke-width="3" fill="none"/>
<path d="M774.8,1664.3L785.3,1675.3L774.8,1686.3L764.3,1675.3Z" fill="#9d6cc6" fill-opacity="0.92"/>
<path d="M798.4,1663.9V1691.9M790.9,1663.9h15M790.9,1691.9h15" stroke="#c4a8dc" stroke-width="3" fill="none"/>
<path d="M798.4,1666.9L808.9,1677.9L798.4,1688.9L787.9,1677.9Z" fill="#9d6cc6" fill-opacity="0.92"/>
<path d="M822.1,1663L832.6,1674L822.1,1685L811.6,1674Z" fill="#9d6cc6" fill-opacity="0.92"/>
<path d="M845.8,1666.9L856.2,1677.9L845.8,1688.9L835.2,1677.9Z" fill="#9d6cc6" fill-opacity="0.92"/>
<path d="M869.4,1673.4L879.9,1684.4L869.4,1695.4L858.9,1684.4Z" fill="#9d6cc6" fill-opacity="0.92"/>
<path d="M893,1677.3L903.5,1688.3L893,1699.3L882.5,1688.3Z" fill="#9d6cc6" fill-opacity="0.92"/>
<path d="M916.7,1682.4L927.2,1693.4L916.7,1704.4L906.2,1693.4Z" fill="#9d6cc6" fill-opacity="0.92"/>
<path d="M940.3,1685L950.8,1696L940.3,1707L929.8,1696Z" fill="#9d6cc6" fill-opacity="0.92"/>
<path d="M964,1687.6L974.5,1698.6L964,1709.6L953.5,1698.6Z" fill="#9d6cc6" fill-opacity="0.92"/>
<path d="M987.6,1692.8L998.1,1703.8L987.6,1714.8L977.1,1703.8Z" fill="#9d6cc6" fill-opacity="0.92"/>
<path d="M1011.3,1695.4L1021.8,1706.4L1011.3,1717.4L1000.8,1706.4Z" fill="#9d6cc6" fill-opacity="0.92"/>
<path d="M1034.9,1700.6L1045.4,1711.6L1034.9,1722.6L1024.4,1711.6Z" fill="#9d6cc6" fill-opacity="0.92"/>
<path d="M1058.6,1705.8L1069.1,1716.8L1058.6,1727.8L1048.1,1716.8Z" fill="#9d6cc6" fill-opacity="0.92"/>
<path d="M1082.2,1707L1092.8,1718L1082.2,1729L1071.8,1718Z" fill="#9d6cc6" fill-opacity="0.92"/>
<path d="M1105.9,1708.4L1116.4,1719.4L1105.9,1730.4L1095.4,1719.4Z" fill="#9d6cc6" fill-opacity="0.92"/>
<path d="M1129.5,1709.7L1140,1720.7L1129.5,1731.7L1119,1720.7Z" fill="#9d6cc6" fill-opacity="0.92"/>
<path d="M514.6,1174.3V1249.7M507.1,1174.3h15M507.1,1249.7h15" stroke="#e2c46c" stroke-width="3" fill="none"/>
<path d="M538.3,1212V1298M530.8,1212h15M530.8,1298h15" stroke="#e2c46c" stroke-width="3" fill="none"/>
<path d="M562,1080V1190.8M554.5,1080h15M554.5,1190.8h15" stroke="#e2c46c" stroke-width="3" fill="none"/>
<path d="M585.6,1194.3V1280.3M578.1,1194.3h15M578.1,1280.3h15" stroke="#e2c46c" stroke-width="3" fill="none"/>
<path d="M609.2,1260.3V1340.4M601.8,1260.3h15M601.8,1340.4h15" stroke="#e2c46c" stroke-width="3" fill="none"/>
<path d="M632.9,1357V1426.7M625.4,1357h15M625.4,1426.7h15" stroke="#e2c46c" stroke-width="3" fill="none"/>
<path d="M656.5,1383V1441.7M649,1383h15M649,1441.7h15" stroke="#e2c46c" stroke-width="3" fill="none"/>
<path d="M680.2,1379.5V1423M672.7,1379.5h15M672.7,1423h15" stroke="#e2c46c" stroke-width="3" fill="none"/>
<path d="M703.8,1429.6V1482M696.3,1429.6h15M696.3,1482h15" stroke="#e2c46c" stroke-width="3" fill="none"/>
<path d="M727.5,1387.6V1446.9M720,1387.6h15M720,1446.9h15" stroke="#e2c46c" stroke-width="3" fill="none"/>
<path d="M751.1,1484.8V1519.8M743.6,1484.8h15M743.6,1519.8h15" stroke="#e2c46c" stroke-width="3" fill="none"/>
<path d="M774.8,1468V1516M767.3,1468h15M767.3,1516h15" stroke="#e2c46c" stroke-width="3" fill="none"/>
<path d="M798.4,1514.6V1552M790.9,1514.6h15M790.9,1552h15" stroke="#e2c46c" stroke-width="3" fill="none"/>
<path d="M822.1,1504V1543M814.6,1504h15M814.6,1543h15" stroke="#e2c46c" stroke-width="3" fill="none"/>
<path d="M845.8,1513V1549.6M838.2,1513h15M838.2,1549.6h15" stroke="#e2c46c" stroke-width="3" fill="none"/>
<path d="M869.4,1541.8V1565M861.9,1541.8h15M861.9,1565h15" stroke="#e2c46c" stroke-width="3" fill="none"/>
<path d="M893,1583V1609M885.5,1583h15M885.5,1609h15" stroke="#e2c46c" stroke-width="3" fill="none"/>
<path d="M916.7,1573V1602.7M909.2,1573h15M909.2,1602.7h15" stroke="#e2c46c" stroke-width="3" fill="none"/>
<path d="M940.3,1560V1584.6M932.8,1560h15M932.8,1584.6h15" stroke="#e2c46c" stroke-width="3" fill="none"/>
<path d="M964,1611V1628M956.5,1611h15M956.5,1628h15" stroke="#e2c46c" stroke-width="3" fill="none"/>
<path d="M987.6,1607V1624M980.1,1607h15M980.1,1624h15" stroke="#e2c46c" stroke-width="3" fill="none"/>
<path d="M1011.3,1630V1645M1003.8,1630h15M1003.8,1645h15" stroke="#e2c46c" stroke-width="3" fill="none"/>
<path d="M1034.9,1628V1642M1027.4,1628h15M1027.4,1642h15" stroke="#e2c46c" stroke-width="3" fill="none"/>
<path d="M1058.6,1643V1656M1051.1,1643h15M1051.1,1656h15" stroke="#e2c46c" stroke-width="3" fill="none"/>
<path d="M1082.2,1646V1658M1074.8,1646h15M1074.8,1658h15" stroke="#e2c46c" stroke-width="3" fill="none"/>
<path d="M1105.9,1654V1665M1098.4,1654h15M1098.4,1665h15" stroke="#e2c46c" stroke-width="3" fill="none"/>
<path d="M1129.5,1653V1664M1122,1653h15M1122,1664h15" stroke="#e2c46c" stroke-width="3" fill="none"/>
<path d="M505.1,1212L523.6,1201L523.6,1223Z" fill="#d5a30f"/>
<path d="M528.8,1254.4L547.3,1243.4L547.3,1265.4Z" fill="#d5a30f"/>
<path d="M552.5,1136.6L571,1125.6L571,1147.6Z" fill="#d5a30f"/>
<path d="M576.1,1236.7L594.6,1225.7L594.6,1247.7Z" fill="#d5a30f"/>
<path d="M599.8,1300.4L618.2,1289.4L618.2,1311.4Z" fill="#d5a30f"/>
<path d="M623.4,1391L641.9,1380L641.9,1402Z" fill="#d5a30f"/>
<path d="M647,1412.3L665.5,1401.3L665.5,1423.3Z" fill="#d5a30f"/>
<path d="M670.7,1401.4L689.2,1390.4L689.2,1412.4Z" fill="#d5a30f"/>
<path d="M694.3,1455.5L712.8,1444.5L712.8,1466.5Z" fill="#d5a30f"/>
<path d="M718,1417.5L736.5,1406.5L736.5,1428.5Z" fill="#d5a30f"/>
<path d="M741.6,1501.6L760.1,1490.6L760.1,1512.6Z" fill="#d5a30f"/>
<path d="M765.3,1490L783.8,1479L783.8,1501Z" fill="#d5a30f"/>
<path d="M788.9,1531.4L807.4,1520.4L807.4,1542.4Z" fill="#d5a30f"/>
<path d="M812.6,1523.7L831.1,1512.7L831.1,1534.7Z" fill="#d5a30f"/>
<path d="M836.2,1531.4L854.8,1520.4L854.8,1542.4Z" fill="#d5a30f"/>
<path d="M859.9,1553.5L878.4,1542.5L878.4,1564.5Z" fill="#d5a30f"/>
<path d="M883.5,1596.2L902,1585.2L902,1607.2Z" fill="#d5a30f"/>
<path d="M907.2,1587L925.7,1576L925.7,1598Z" fill="#d5a30f"/>
<path d="M930.8,1571.6L949.3,1560.6L949.3,1582.6Z" fill="#d5a30f"/>
<path d="M954.5,1619.6L973,1608.6L973,1630.6Z" fill="#d5a30f"/>
<path d="M978.1,1615.7L996.6,1604.7L996.6,1626.7Z" fill="#d5a30f"/>
<path d="M1001.8,1637.7L1020.3,1626.7L1020.3,1648.7Z" fill="#d5a30f"/>
<path d="M1025.4,1635L1043.9,1624L1043.9,1646Z" fill="#d5a30f"/>
<path d="M1049.1,1649.4L1067.6,1638.4L1067.6,1660.4Z" fill="#d5a30f"/>
<path d="M1072.8,1652L1091.2,1641L1091.2,1663Z" fill="#d5a30f"/>
<path d="M1096.4,1659.7L1114.9,1648.7L1114.9,1670.7Z" fill="#d5a30f"/>
<path d="M1120,1658.4L1138.5,1647.4L1138.5,1669.4Z" fill="#d5a30f"/>
<rect x="246" y="1044.8" width="886.2" height="714.4" fill="none" stroke="#111" stroke-width="4.2"/>
<line x1="232" y1="1739.4" x2="246" y2="1739.4" stroke="#000" stroke-width="4"/>
<text x="204.3" y="1750.7" font-family="Liberation Serif, serif" font-size="39" font-weight="700" fill="#000" textLength="18.9" lengthAdjust="spacingAndGlyphs">0</text>
<line x1="232" y1="1640.1" x2="246" y2="1640.1" stroke="#000" stroke-width="4"/>
<text x="147.6" y="1651.4" font-family="Liberation Serif, serif" font-size="39" font-weight="700" fill="#000" textLength="75.7" lengthAdjust="spacingAndGlyphs">5000</text>
<line x1="232" y1="1540.8" x2="246" y2="1540.8" stroke="#000" stroke-width="4"/>
<text x="119.2" y="1552.1" font-family="Liberation Serif, serif" font-size="39" font-weight="700" fill="#000" textLength="104" lengthAdjust="spacingAndGlyphs">10,000</text>
<line x1="232" y1="1441.5" x2="246" y2="1441.5" stroke="#000" stroke-width="4"/>
<text x="119.2" y="1452.8" font-family="Liberation Serif, serif" font-size="39" font-weight="700" fill="#000" textLength="104" lengthAdjust="spacingAndGlyphs">15,000</text>
<line x1="232" y1="1342.2" x2="246" y2="1342.2" stroke="#000" stroke-width="4"/>
<text x="119.2" y="1353.5" font-family="Liberation Serif, serif" font-size="39" font-weight="700" fill="#000" textLength="104" lengthAdjust="spacingAndGlyphs">20,000</text>
<line x1="232" y1="1242.9" x2="246" y2="1242.9" stroke="#000" stroke-width="4"/>
<text x="119.2" y="1254.2" font-family="Liberation Serif, serif" font-size="39" font-weight="700" fill="#000" textLength="104" lengthAdjust="spacingAndGlyphs">25,000</text>
<line x1="232" y1="1143.6" x2="246" y2="1143.6" stroke="#000" stroke-width="4"/>
<text x="119.2" y="1154.9" font-family="Liberation Serif, serif" font-size="39" font-weight="700" fill="#000" textLength="104" lengthAdjust="spacingAndGlyphs">30,000</text>
<line x1="232" y1="1044.3" x2="246" y2="1044.3" stroke="#000" stroke-width="4"/>
<text x="119.2" y="1055.6" font-family="Liberation Serif, serif" font-size="39" font-weight="700" fill="#000" textLength="104" lengthAdjust="spacingAndGlyphs">35,000</text>
<line x1="239" y1="1689.8" x2="246" y2="1689.8" stroke="#000" stroke-width="4"/>
<line x1="239" y1="1590.5" x2="246" y2="1590.5" stroke="#000" stroke-width="4"/>
<line x1="239" y1="1491.2" x2="246" y2="1491.2" stroke="#000" stroke-width="4"/>
<line x1="239" y1="1391.9" x2="246" y2="1391.9" stroke="#000" stroke-width="4"/>
<line x1="239" y1="1292.6" x2="246" y2="1292.6" stroke="#000" stroke-width="4"/>
<line x1="239" y1="1193.2" x2="246" y2="1193.2" stroke="#000" stroke-width="4"/>
<line x1="239" y1="1094" x2="246" y2="1094" stroke="#000" stroke-width="4"/>
<line x1="246" y1="1759.2" x2="246" y2="1773" stroke="#000" stroke-width="4"/>
<text x="236.3" y="1812" font-family="Liberation Serif, serif" font-size="38.5" font-weight="700" fill="#000" textLength="18.3" lengthAdjust="spacingAndGlyphs">1</text>
<line x1="286.5" y1="1759.2" x2="286.5" y2="1766" stroke="#000" stroke-width="3.6"/>
<line x1="323.1" y1="1759.2" x2="323.1" y2="1766" stroke="#000" stroke-width="3.6"/>
<line x1="356.6" y1="1759.2" x2="356.6" y2="1766" stroke="#000" stroke-width="3.6"/>
<line x1="387.3" y1="1759.2" x2="387.3" y2="1766" stroke="#000" stroke-width="3.6"/>
<line x1="415.8" y1="1759.2" x2="415.8" y2="1766" stroke="#000" stroke-width="3.6"/>
<line x1="442.3" y1="1759.2" x2="442.3" y2="1766" stroke="#000" stroke-width="3.6"/>
<line x1="467.1" y1="1759.2" x2="467.1" y2="1766" stroke="#000" stroke-width="3.6"/>
<line x1="490.4" y1="1759.2" x2="490.4" y2="1766" stroke="#000" stroke-width="3.6"/>
<line x1="512.4" y1="1759.2" x2="512.4" y2="1773" stroke="#000" stroke-width="4"/>
<text x="503.3" y="1812" font-family="Liberation Serif, serif" font-size="38.5" font-weight="700" fill="#000" textLength="18.3" lengthAdjust="spacingAndGlyphs">2</text>
<line x1="533.2" y1="1759.2" x2="533.2" y2="1766" stroke="#000" stroke-width="3.6"/>
<line x1="552.9" y1="1759.2" x2="552.9" y2="1766" stroke="#000" stroke-width="3.6"/>
<line x1="571.7" y1="1759.2" x2="571.7" y2="1766" stroke="#000" stroke-width="3.6"/>
<line x1="589.5" y1="1759.2" x2="589.5" y2="1766" stroke="#000" stroke-width="3.6"/>
<line x1="606.6" y1="1759.2" x2="606.6" y2="1766" stroke="#000" stroke-width="3.6"/>
<line x1="623" y1="1759.2" x2="623" y2="1766" stroke="#000" stroke-width="3.6"/>
<line x1="638.7" y1="1759.2" x2="638.7" y2="1766" stroke="#000" stroke-width="3.6"/>
<line x1="653.7" y1="1759.2" x2="653.7" y2="1766" stroke="#000" stroke-width="3.6"/>
<line x1="668.3" y1="1759.2" x2="668.3" y2="1773" stroke="#000" stroke-width="4"/>
<text x="659" y="1812" font-family="Liberation Serif, serif" font-size="38.5" font-weight="700" fill="#000" textLength="18.3" lengthAdjust="spacingAndGlyphs">3</text>
<line x1="682.2" y1="1759.2" x2="682.2" y2="1766" stroke="#000" stroke-width="3.6"/>
<line x1="695.7" y1="1759.2" x2="695.7" y2="1766" stroke="#000" stroke-width="3.6"/>
<line x1="708.7" y1="1759.2" x2="708.7" y2="1766" stroke="#000" stroke-width="3.6"/>
<line x1="721.4" y1="1759.2" x2="721.4" y2="1766" stroke="#000" stroke-width="3.6"/>
<line x1="733.6" y1="1759.2" x2="733.6" y2="1766" stroke="#000" stroke-width="3.6"/>
<line x1="745.4" y1="1759.2" x2="745.4" y2="1766" stroke="#000" stroke-width="3.6"/>
<line x1="756.9" y1="1759.2" x2="756.9" y2="1766" stroke="#000" stroke-width="3.6"/>
<line x1="768" y1="1759.2" x2="768" y2="1766" stroke="#000" stroke-width="3.6"/>
<line x1="778.8" y1="1759.2" x2="778.8" y2="1773" stroke="#000" stroke-width="4"/>
<text x="769.8" y="1812" font-family="Liberation Serif, serif" font-size="38.5" font-weight="700" fill="#000" textLength="18.3" lengthAdjust="spacingAndGlyphs">4</text>
<line x1="789.4" y1="1759.2" x2="789.4" y2="1766" stroke="#000" stroke-width="3.6"/>
<line x1="799.6" y1="1759.2" x2="799.6" y2="1766" stroke="#000" stroke-width="3.6"/>
<line x1="809.6" y1="1759.2" x2="809.6" y2="1766" stroke="#000" stroke-width="3.6"/>
<line x1="819.3" y1="1759.2" x2="819.3" y2="1766" stroke="#000" stroke-width="3.6"/>
<line x1="828.8" y1="1759.2" x2="828.8" y2="1766" stroke="#000" stroke-width="3.6"/>
<line x1="838.1" y1="1759.2" x2="838.1" y2="1766" stroke="#000" stroke-width="3.6"/>
<line x1="847.1" y1="1759.2" x2="847.1" y2="1766" stroke="#000" stroke-width="3.6"/>
<line x1="856" y1="1759.2" x2="856" y2="1766" stroke="#000" stroke-width="3.6"/>
<line x1="864.6" y1="1759.2" x2="864.6" y2="1773" stroke="#000" stroke-width="4"/>
<text x="855.4" y="1812" font-family="Liberation Serif, serif" font-size="38.5" font-weight="700" fill="#000" textLength="18.3" lengthAdjust="spacingAndGlyphs">5</text>
<line x1="873" y1="1759.2" x2="873" y2="1766" stroke="#000" stroke-width="3.6"/>
<line x1="881.3" y1="1759.2" x2="881.3" y2="1766" stroke="#000" stroke-width="3.6"/>
<line x1="889.4" y1="1759.2" x2="889.4" y2="1766" stroke="#000" stroke-width="3.6"/>
<line x1="897.3" y1="1759.2" x2="897.3" y2="1766" stroke="#000" stroke-width="3.6"/>
<line x1="905.1" y1="1759.2" x2="905.1" y2="1766" stroke="#000" stroke-width="3.6"/>
<line x1="912.7" y1="1759.2" x2="912.7" y2="1766" stroke="#000" stroke-width="3.6"/>
<line x1="920.2" y1="1759.2" x2="920.2" y2="1766" stroke="#000" stroke-width="3.6"/>
<line x1="927.5" y1="1759.2" x2="927.5" y2="1766" stroke="#000" stroke-width="3.6"/>
<line x1="934.7" y1="1759.2" x2="934.7" y2="1773" stroke="#000" stroke-width="4"/>
<text x="925.4" y="1812" font-family="Liberation Serif, serif" font-size="38.5" font-weight="700" fill="#000" textLength="18.3" lengthAdjust="spacingAndGlyphs">6</text>
<line x1="941.7" y1="1759.2" x2="941.7" y2="1766" stroke="#000" stroke-width="3.6"/>
<line x1="948.6" y1="1759.2" x2="948.6" y2="1766" stroke="#000" stroke-width="3.6"/>
<line x1="955.4" y1="1759.2" x2="955.4" y2="1766" stroke="#000" stroke-width="3.6"/>
<line x1="962.1" y1="1759.2" x2="962.1" y2="1766" stroke="#000" stroke-width="3.6"/>
<line x1="968.7" y1="1759.2" x2="968.7" y2="1766" stroke="#000" stroke-width="3.6"/>
<line x1="975.2" y1="1759.2" x2="975.2" y2="1766" stroke="#000" stroke-width="3.6"/>
<line x1="981.5" y1="1759.2" x2="981.5" y2="1766" stroke="#000" stroke-width="3.6"/>
<line x1="987.8" y1="1759.2" x2="987.8" y2="1766" stroke="#000" stroke-width="3.6"/>
<line x1="993.9" y1="1759.2" x2="993.9" y2="1773" stroke="#000" stroke-width="4"/>
<text x="984.2" y="1812" font-family="Liberation Serif, serif" font-size="38.5" font-weight="700" fill="#000" textLength="18.3" lengthAdjust="spacingAndGlyphs">7</text>
<line x1="1000" y1="1759.2" x2="1000" y2="1766" stroke="#000" stroke-width="3.6"/>
<line x1="1005.9" y1="1759.2" x2="1005.9" y2="1766" stroke="#000" stroke-width="3.6"/>
<line x1="1011.8" y1="1759.2" x2="1011.8" y2="1766" stroke="#000" stroke-width="3.6"/>
<line x1="1017.6" y1="1759.2" x2="1017.6" y2="1766" stroke="#000" stroke-width="3.6"/>
<line x1="1023.3" y1="1759.2" x2="1023.3" y2="1766" stroke="#000" stroke-width="3.6"/>
<line x1="1028.9" y1="1759.2" x2="1028.9" y2="1766" stroke="#000" stroke-width="3.6"/>
<line x1="1034.4" y1="1759.2" x2="1034.4" y2="1766" stroke="#000" stroke-width="3.6"/>
<line x1="1039.9" y1="1759.2" x2="1039.9" y2="1766" stroke="#000" stroke-width="3.6"/>
<line x1="1045.2" y1="1759.2" x2="1045.2" y2="1773" stroke="#000" stroke-width="4"/>
<text x="1036.1" y="1812" font-family="Liberation Serif, serif" font-size="38.5" font-weight="700" fill="#000" textLength="18.3" lengthAdjust="spacingAndGlyphs">8</text>
<line x1="1050.5" y1="1759.2" x2="1050.5" y2="1766" stroke="#000" stroke-width="3.6"/>
<line x1="1055.8" y1="1759.2" x2="1055.8" y2="1766" stroke="#000" stroke-width="3.6"/>
<line x1="1060.9" y1="1759.2" x2="1060.9" y2="1766" stroke="#000" stroke-width="3.6"/>
<line x1="1066" y1="1759.2" x2="1066" y2="1766" stroke="#000" stroke-width="3.6"/>
<line x1="1071" y1="1759.2" x2="1071" y2="1766" stroke="#000" stroke-width="3.6"/>
<line x1="1076" y1="1759.2" x2="1076" y2="1766" stroke="#000" stroke-width="3.6"/>
<line x1="1080.9" y1="1759.2" x2="1080.9" y2="1766" stroke="#000" stroke-width="3.6"/>
<line x1="1085.7" y1="1759.2" x2="1085.7" y2="1766" stroke="#000" stroke-width="3.6"/>
<line x1="1090.5" y1="1759.2" x2="1090.5" y2="1773" stroke="#000" stroke-width="4"/>
<text x="1081.5" y="1812" font-family="Liberation Serif, serif" font-size="38.5" font-weight="700" fill="#000" textLength="18.3" lengthAdjust="spacingAndGlyphs">9</text>
<line x1="1095.2" y1="1759.2" x2="1095.2" y2="1766" stroke="#000" stroke-width="3.6"/>
<line x1="1099.9" y1="1759.2" x2="1099.9" y2="1766" stroke="#000" stroke-width="3.6"/>
<line x1="1104.5" y1="1759.2" x2="1104.5" y2="1766" stroke="#000" stroke-width="3.6"/>
<line x1="1109" y1="1759.2" x2="1109" y2="1766" stroke="#000" stroke-width="3.6"/>
<line x1="1113.5" y1="1759.2" x2="1113.5" y2="1766" stroke="#000" stroke-width="3.6"/>
<line x1="1118" y1="1759.2" x2="1118" y2="1766" stroke="#000" stroke-width="3.6"/>
<line x1="1122.4" y1="1759.2" x2="1122.4" y2="1766" stroke="#000" stroke-width="3.6"/>
<line x1="1126.7" y1="1759.2" x2="1126.7" y2="1766" stroke="#000" stroke-width="3.6"/>
<line x1="1131" y1="1759.2" x2="1131" y2="1773" stroke="#000" stroke-width="4"/>
<text x="1111.9" y="1812" font-family="Liberation Serif, serif" font-size="38.5" font-weight="700" fill="#000" textLength="36.6" lengthAdjust="spacingAndGlyphs">10</text>
<text transform="translate(102,1576.4) rotate(-90)" x="-0.5" y="0" font-family="Liberation Serif, serif" font-size="50" font-weight="700" textLength="349.5" lengthAdjust="spacingAndGlyphs">Viscosity (mPa&#183;s)</text>
<text x="624.5" y="1877.9" font-family="Liberation Serif, serif" font-size="46" font-weight="700" font-style="italic">γ</text>
<text x="641.9" y="1877.4" font-family="Liberation Serif, serif" font-size="46" font-weight="700" fill="#000" textLength="19.5" lengthAdjust="spacingAndGlyphs">′</text>
<text x="670.4" y="1877.9" font-family="Liberation Serif, serif" font-size="44.5" font-weight="400" fill="#000" textLength="18.7" lengthAdjust="spacingAndGlyphs">(</text>
<text x="686" y="1877.9" font-family="Liberation Serif, serif" font-size="46" font-weight="700" fill="#000" textLength="23" lengthAdjust="spacingAndGlyphs">1</text>
<text x="710.6" y="1877.9" font-family="Liberation Serif, serif" font-size="44.5" font-weight="400" fill="#000" textLength="12.8" lengthAdjust="spacingAndGlyphs">/</text>
<text x="722.2" y="1877.9" font-family="Liberation Serif, serif" font-size="44.5" font-weight="400" fill="#000" textLength="19" lengthAdjust="spacingAndGlyphs">s</text>
<text x="741" y="1877.9" font-family="Liberation Serif, serif" font-size="44.5" font-weight="400" fill="#000" textLength="16.6" lengthAdjust="spacingAndGlyphs">)</text>
<rect x="956.2" y="1078" width="15.5" height="15.5" fill="#4f4f4f"/>
<text x="1009.3" y="1096.2" font-family="Liberation Serif, serif" font-size="34.6" font-weight="400" fill="#1a1a1a" textLength="87.9" lengthAdjust="spacingAndGlyphs">0.02%</text>
<circle cx="964" cy="1127.2" r="10.3" fill="#e83535"/>
<text x="1009.3" y="1137.7" font-family="Liberation Serif, serif" font-size="34.6" font-weight="400" fill="#1a1a1a" textLength="87.9" lengthAdjust="spacingAndGlyphs">0.05%</text>
<path d="M964,1157.7L975.5,1178.7L952.5,1178.7Z" fill="#2366c4"/>
<text x="1009.3" y="1179.2" font-family="Liberation Serif, serif" font-size="34.6" font-weight="400" fill="#1a1a1a" textLength="87.9" lengthAdjust="spacingAndGlyphs">0.10%</text>
<path d="M953,1200.7L975,1200.7L964,1220.7Z" fill="#25a35c"/>
<text x="1009.3" y="1220.7" font-family="Liberation Serif, serif" font-size="34.6" font-weight="400" fill="#1a1a1a" textLength="87.9" lengthAdjust="spacingAndGlyphs">0.20%</text>
<path d="M964,1239.7L975.5,1251.7L964,1263.7L952.5,1251.7Z" fill="#9d6cc6"/>
<text x="1009.3" y="1262.2" font-family="Liberation Serif, serif" font-size="34.6" font-weight="400" fill="#1a1a1a" textLength="87.9" lengthAdjust="spacingAndGlyphs">0.50%</text>
<path d="M952,1293.2L971,1281.7L971,1304.7Z" fill="#d5a30f"/>
<text x="1007.6" y="1303.7" font-family="Liberation Serif, serif" font-size="34.6" font-weight="400" fill="#1a1a1a" textLength="89.6" lengthAdjust="spacingAndGlyphs">1.00%</text>
<text x="1174.3" y="1041" font-family="Liberation Serif, serif" font-size="98.5" font-weight="700" fill="#000" textLength="54.5" lengthAdjust="spacingAndGlyphs">d</text>
<rect x="1411.8" y="1734" width="15.5" height="15.5" fill="#ea1c24"/>
<rect x="1447.6" y="1734" width="15.5" height="15.5" fill="#ea1c24"/>
<rect x="1483.4" y="1734" width="15.5" height="15.5" fill="#ea1c24"/>
<rect x="1519.2" y="1734" width="15.5" height="15.5" fill="#ea1c24"/>
<rect x="1555" y="1734" width="15.5" height="15.5" fill="#ea1c24"/>
<rect x="1590.8" y="1734" width="15.5" height="15.5" fill="#ea1c24"/>
<rect x="1626.6" y="1734" width="15.5" height="15.5" fill="#ea1c24"/>
<rect x="1662.4" y="1734" width="15.5" height="15.5" fill="#ea1c24"/>
<rect x="1698.2" y="1734" width="15.5" height="15.5" fill="#ea1c24"/>
<rect x="1734" y="1734" width="15.5" height="15.5" fill="#ea1c24"/>
<rect x="1769.8" y="1734" width="15.5" height="15.5" fill="#ea1c24"/>
<rect x="1805.6" y="1734" width="15.5" height="15.5" fill="#ea1c24"/>
<rect x="1841.4" y="1734" width="15.5" height="15.5" fill="#ea1c24"/>
<rect x="1877.2" y="1734" width="15.5" height="15.5" fill="#ea1c24"/>
<rect x="1913" y="1734" width="15.5" height="15.5" fill="#ea1c24"/>
<rect x="1948.8" y="1734" width="15.5" height="15.5" fill="#ea1c24"/>
<rect x="1984.6" y="1734" width="15.5" height="15.5" fill="#ea1c24"/>
<rect x="2020.4" y="1734" width="15.5" height="15.5" fill="#ea1c24"/>
<rect x="2056.2" y="1734" width="15.5" height="15.5" fill="#ea1c24"/>
<rect x="2092" y="1734" width="15.5" height="15.5" fill="#ea1c24"/>
<rect x="2127.8" y="1734" width="15.5" height="15.5" fill="#ea1c24"/>
<rect x="2163.6" y="1734" width="15.5" height="15.5" fill="#ea1c24"/>
<rect x="2199.4" y="1734" width="15.5" height="15.5" fill="#ea1c24"/>
<rect x="2235.2" y="1734" width="15.5" height="15.5" fill="#ea1c24"/>
<rect x="2271" y="1734" width="15.5" height="15.5" fill="#ea1c24"/>
<path d="M1459.9,1064.5V1114.3M1452.4,1064.5h15M1452.4,1114.3h15" stroke="#222" stroke-width="2.6" fill="none"/>
<circle cx="1459.9" cy="1089.5" r="9" fill="#050505"/>
<path d="M1495.9,1130.7V1159.5M1488.4,1130.7h15M1488.4,1159.5h15" stroke="#222" stroke-width="2.6" fill="none"/>
<circle cx="1495.9" cy="1146" r="9" fill="#050505"/>
<path d="M1531,1186.9V1224.9M1523.5,1186.9h15M1523.5,1224.9h15" stroke="#222" stroke-width="2.6" fill="none"/>
<circle cx="1531" cy="1206.2" r="9" fill="#050505"/>
<circle cx="1564.2" cy="1256" r="9" fill="#050505"/>
<circle cx="1600.7" cy="1292" r="9" fill="#050505"/>
<circle cx="1632.7" cy="1315.9" r="9" fill="#050505"/>
<circle cx="1672.2" cy="1348.2" r="9" fill="#050505"/>
<circle cx="1703" cy="1359.7" r="9" fill="#050505"/>
<circle cx="1739.9" cy="1375.5" r="9" fill="#050505"/>
<circle cx="1783.6" cy="1413" r="9" fill="#050505"/>
<circle cx="1814.7" cy="1443.2" r="9" fill="#050505"/>
<circle cx="1854.2" cy="1483.7" r="9" fill="#050505"/>
<circle cx="1886.5" cy="1499.5" r="9" fill="#050505"/>
<circle cx="1921.4" cy="1522.7" r="9" fill="#050505"/>
<path d="M1958.4,1526.3V1549.3M1950.9,1526.3h15M1950.9,1549.3h15" stroke="#222" stroke-width="2.6" fill="none"/>
<circle cx="1958.4" cy="1537.2" r="9" fill="#050505"/>
<path d="M1993.2,1545.7V1565M1985.7,1545.7h15M1985.7,1565h15" stroke="#222" stroke-width="2.6" fill="none"/>
<circle cx="1993.2" cy="1554.7" r="9" fill="#050505"/>
<path d="M2030.2,1553V1580.8M2022.7,1553h15M2022.7,1580.8h15" stroke="#222" stroke-width="2.6" fill="none"/>
<circle cx="2030.2" cy="1566.7" r="9" fill="#050505"/>
<circle cx="2064.8" cy="1586.8" r="9" fill="#050505"/>
<circle cx="2101.6" cy="1601.3" r="9" fill="#050505"/>
<circle cx="2137.4" cy="1617.5" r="9" fill="#050505"/>
<circle cx="2172.2" cy="1627.2" r="9" fill="#050505"/>
<circle cx="2207.5" cy="1638.8" r="9" fill="#050505"/>
<circle cx="2244.3" cy="1648.5" r="9" fill="#050505"/>
<circle cx="2279.4" cy="1660.6" r="9" fill="#050505"/>
<rect x="1411.5" y="1044.5" width="886" height="714.5" fill="none" stroke="#111" stroke-width="4.4"/>
<line x1="1398" y1="1741.7" x2="1411.5" y2="1741.7" stroke="#000" stroke-width="4.2"/>
<text x="1369.2" y="1754" font-family="Liberation Serif, serif" font-size="40.3" font-weight="700" fill="#000" textLength="18.2" lengthAdjust="spacingAndGlyphs">0</text>
<line x1="1398" y1="1567.5" x2="1411.5" y2="1567.5" stroke="#000" stroke-width="4.2"/>
<text x="1287.1" y="1579.8" font-family="Liberation Serif, serif" font-size="40.3" font-weight="700" fill="#000" textLength="100.3" lengthAdjust="spacingAndGlyphs">10,000</text>
<line x1="1398" y1="1393.2" x2="1411.5" y2="1393.2" stroke="#000" stroke-width="4.2"/>
<text x="1287.1" y="1405.5" font-family="Liberation Serif, serif" font-size="40.3" font-weight="700" fill="#000" textLength="100.3" lengthAdjust="spacingAndGlyphs">20,000</text>
<line x1="1398" y1="1219" x2="1411.5" y2="1219" stroke="#000" stroke-width="4.2"/>
<text x="1287.1" y="1231.2" font-family="Liberation Serif, serif" font-size="40.3" font-weight="700" fill="#000" textLength="100.3" lengthAdjust="spacingAndGlyphs">30,000</text>
<line x1="1398" y1="1044.7" x2="1411.5" y2="1044.7" stroke="#000" stroke-width="4.2"/>
<text x="1287.1" y="1057" font-family="Liberation Serif, serif" font-size="40.3" font-weight="700" fill="#000" textLength="100.3" lengthAdjust="spacingAndGlyphs">40,000</text>
<line x1="1404.5" y1="1654.6" x2="1411.5" y2="1654.6" stroke="#000" stroke-width="4.2"/>
<line x1="1404.5" y1="1480.3" x2="1411.5" y2="1480.3" stroke="#000" stroke-width="4.2"/>
<line x1="1404.5" y1="1306.1" x2="1411.5" y2="1306.1" stroke="#000" stroke-width="4.2"/>
<line x1="1404.5" y1="1131.8" x2="1411.5" y2="1131.8" stroke="#000" stroke-width="4.2"/>
<line x1="1411.5" y1="1759" x2="1411.5" y2="1773" stroke="#000" stroke-width="4.2"/>
<text x="1401.8" y="1811.4" font-family="Liberation Serif, serif" font-size="38.5" font-weight="700" fill="#000" textLength="18.3" lengthAdjust="spacingAndGlyphs">1</text>
<line x1="1452" y1="1759" x2="1452" y2="1766" stroke="#000" stroke-width="3.6"/>
<line x1="1488.7" y1="1759" x2="1488.7" y2="1766" stroke="#000" stroke-width="3.6"/>
<line x1="1522.1" y1="1759" x2="1522.1" y2="1766" stroke="#000" stroke-width="3.6"/>
<line x1="1552.9" y1="1759" x2="1552.9" y2="1766" stroke="#000" stroke-width="3.6"/>
<line x1="1581.4" y1="1759" x2="1581.4" y2="1766" stroke="#000" stroke-width="3.6"/>
<line x1="1607.9" y1="1759" x2="1607.9" y2="1766" stroke="#000" stroke-width="3.6"/>
<line x1="1632.8" y1="1759" x2="1632.8" y2="1766" stroke="#000" stroke-width="3.6"/>
<line x1="1656.1" y1="1759" x2="1656.1" y2="1766" stroke="#000" stroke-width="3.6"/>
<line x1="1678.1" y1="1759" x2="1678.1" y2="1773" stroke="#000" stroke-width="4.2"/>
<text x="1668.9" y="1811.4" font-family="Liberation Serif, serif" font-size="38.5" font-weight="700" fill="#000" textLength="18.3" lengthAdjust="spacingAndGlyphs">2</text>
<line x1="1698.9" y1="1759" x2="1698.9" y2="1766" stroke="#000" stroke-width="3.6"/>
<line x1="1718.6" y1="1759" x2="1718.6" y2="1766" stroke="#000" stroke-width="3.6"/>
<line x1="1737.3" y1="1759" x2="1737.3" y2="1766" stroke="#000" stroke-width="3.6"/>
<line x1="1755.2" y1="1759" x2="1755.2" y2="1766" stroke="#000" stroke-width="3.6"/>
<line x1="1772.3" y1="1759" x2="1772.3" y2="1766" stroke="#000" stroke-width="3.6"/>
<line x1="1788.7" y1="1759" x2="1788.7" y2="1766" stroke="#000" stroke-width="3.6"/>
<line x1="1804.4" y1="1759" x2="1804.4" y2="1766" stroke="#000" stroke-width="3.6"/>
<line x1="1819.5" y1="1759" x2="1819.5" y2="1766" stroke="#000" stroke-width="3.6"/>
<line x1="1834" y1="1759" x2="1834" y2="1773" stroke="#000" stroke-width="4.2"/>
<text x="1824.8" y="1811.4" font-family="Liberation Serif, serif" font-size="38.5" font-weight="700" fill="#000" textLength="18.3" lengthAdjust="spacingAndGlyphs">3</text>
<line x1="1848" y1="1759" x2="1848" y2="1766" stroke="#000" stroke-width="3.6"/>
<line x1="1861.5" y1="1759" x2="1861.5" y2="1766" stroke="#000" stroke-width="3.6"/>
<line x1="1874.5" y1="1759" x2="1874.5" y2="1766" stroke="#000" stroke-width="3.6"/>
<line x1="1887.1" y1="1759" x2="1887.1" y2="1766" stroke="#000" stroke-width="3.6"/>
<line x1="1899.3" y1="1759" x2="1899.3" y2="1766" stroke="#000" stroke-width="3.6"/>
<line x1="1911.2" y1="1759" x2="1911.2" y2="1766" stroke="#000" stroke-width="3.6"/>
<line x1="1922.6" y1="1759" x2="1922.6" y2="1766" stroke="#000" stroke-width="3.6"/>
<line x1="1933.8" y1="1759" x2="1933.8" y2="1766" stroke="#000" stroke-width="3.6"/>
<line x1="1944.6" y1="1759" x2="1944.6" y2="1773" stroke="#000" stroke-width="4.2"/>
<text x="1935.6" y="1811.4" font-family="Liberation Serif, serif" font-size="38.5" font-weight="700" fill="#000" textLength="18.3" lengthAdjust="spacingAndGlyphs">4</text>
<line x1="1955.2" y1="1759" x2="1955.2" y2="1766" stroke="#000" stroke-width="3.6"/>
<line x1="1965.4" y1="1759" x2="1965.4" y2="1766" stroke="#000" stroke-width="3.6"/>
<line x1="1975.4" y1="1759" x2="1975.4" y2="1766" stroke="#000" stroke-width="3.6"/>
<line x1="1985.1" y1="1759" x2="1985.1" y2="1766" stroke="#000" stroke-width="3.6"/>
<line x1="1994.6" y1="1759" x2="1994.6" y2="1766" stroke="#000" stroke-width="3.6"/>
<line x1="2003.9" y1="1759" x2="2003.9" y2="1766" stroke="#000" stroke-width="3.6"/>
<line x1="2013" y1="1759" x2="2013" y2="1766" stroke="#000" stroke-width="3.6"/>
<line x1="2021.8" y1="1759" x2="2021.8" y2="1766" stroke="#000" stroke-width="3.6"/>
<line x1="2030.4" y1="1759" x2="2030.4" y2="1773" stroke="#000" stroke-width="4.2"/>
<text x="2021.2" y="1811.4" font-family="Liberation Serif, serif" font-size="38.5" font-weight="700" fill="#000" textLength="18.3" lengthAdjust="spacingAndGlyphs">5</text>
<line x1="2038.9" y1="1759" x2="2038.9" y2="1766" stroke="#000" stroke-width="3.6"/>
<line x1="2047.2" y1="1759" x2="2047.2" y2="1766" stroke="#000" stroke-width="3.6"/>
<line x1="2055.3" y1="1759" x2="2055.3" y2="1766" stroke="#000" stroke-width="3.6"/>
<line x1="2063.2" y1="1759" x2="2063.2" y2="1766" stroke="#000" stroke-width="3.6"/>
<line x1="2071" y1="1759" x2="2071" y2="1766" stroke="#000" stroke-width="3.6"/>
<line x1="2078.6" y1="1759" x2="2078.6" y2="1766" stroke="#000" stroke-width="3.6"/>
<line x1="2086" y1="1759" x2="2086" y2="1766" stroke="#000" stroke-width="3.6"/>
<line x1="2093.4" y1="1759" x2="2093.4" y2="1766" stroke="#000" stroke-width="3.6"/>
<line x1="2100.6" y1="1759" x2="2100.6" y2="1773" stroke="#000" stroke-width="4.2"/>
<text x="2091.3" y="1811.4" font-family="Liberation Serif, serif" font-size="38.5" font-weight="700" fill="#000" textLength="18.3" lengthAdjust="spacingAndGlyphs">6</text>
<line x1="2107.6" y1="1759" x2="2107.6" y2="1766" stroke="#000" stroke-width="3.6"/>
<line x1="2114.5" y1="1759" x2="2114.5" y2="1766" stroke="#000" stroke-width="3.6"/>
<line x1="2121.3" y1="1759" x2="2121.3" y2="1766" stroke="#000" stroke-width="3.6"/>
<line x1="2128" y1="1759" x2="2128" y2="1766" stroke="#000" stroke-width="3.6"/>
<line x1="2134.6" y1="1759" x2="2134.6" y2="1766" stroke="#000" stroke-width="3.6"/>
<line x1="2141.1" y1="1759" x2="2141.1" y2="1766" stroke="#000" stroke-width="3.6"/>
<line x1="2147.4" y1="1759" x2="2147.4" y2="1766" stroke="#000" stroke-width="3.6"/>
<line x1="2153.7" y1="1759" x2="2153.7" y2="1766" stroke="#000" stroke-width="3.6"/>
<line x1="2159.8" y1="1759" x2="2159.8" y2="1773" stroke="#000" stroke-width="4.2"/>
<text x="2150.1" y="1811.4" font-family="Liberation Serif, serif" font-size="38.5" font-weight="700" fill="#000" textLength="18.3" lengthAdjust="spacingAndGlyphs">7</text>
<line x1="2165.9" y1="1759" x2="2165.9" y2="1766" stroke="#000" stroke-width="3.6"/>
<line x1="2171.9" y1="1759" x2="2171.9" y2="1766" stroke="#000" stroke-width="3.6"/>
<line x1="2177.7" y1="1759" x2="2177.7" y2="1766" stroke="#000" stroke-width="3.6"/>
<line x1="2183.5" y1="1759" x2="2183.5" y2="1766" stroke="#000" stroke-width="3.6"/>
<line x1="2189.2" y1="1759" x2="2189.2" y2="1766" stroke="#000" stroke-width="3.6"/>
<line x1="2194.8" y1="1759" x2="2194.8" y2="1766" stroke="#000" stroke-width="3.6"/>
<line x1="2200.4" y1="1759" x2="2200.4" y2="1766" stroke="#000" stroke-width="3.6"/>
<line x1="2205.8" y1="1759" x2="2205.8" y2="1766" stroke="#000" stroke-width="3.6"/>
<line x1="2211.2" y1="1759" x2="2211.2" y2="1773" stroke="#000" stroke-width="4.2"/>
<text x="2202" y="1811.4" font-family="Liberation Serif, serif" font-size="38.5" font-weight="700" fill="#000" textLength="18.3" lengthAdjust="spacingAndGlyphs">8</text>
<line x1="2216.5" y1="1759" x2="2216.5" y2="1766" stroke="#000" stroke-width="3.6"/>
<line x1="2221.7" y1="1759" x2="2221.7" y2="1766" stroke="#000" stroke-width="3.6"/>
<line x1="2226.9" y1="1759" x2="2226.9" y2="1766" stroke="#000" stroke-width="3.6"/>
<line x1="2232" y1="1759" x2="2232" y2="1766" stroke="#000" stroke-width="3.6"/>
<line x1="2237" y1="1759" x2="2237" y2="1766" stroke="#000" stroke-width="3.6"/>
<line x1="2242" y1="1759" x2="2242" y2="1766" stroke="#000" stroke-width="3.6"/>
<line x1="2246.9" y1="1759" x2="2246.9" y2="1766" stroke="#000" stroke-width="3.6"/>
<line x1="2251.7" y1="1759" x2="2251.7" y2="1766" stroke="#000" stroke-width="3.6"/>
<line x1="2256.5" y1="1759" x2="2256.5" y2="1773" stroke="#000" stroke-width="4.2"/>
<text x="2247.5" y="1811.4" font-family="Liberation Serif, serif" font-size="38.5" font-weight="700" fill="#000" textLength="18.3" lengthAdjust="spacingAndGlyphs">9</text>
<line x1="2261.2" y1="1759" x2="2261.2" y2="1766" stroke="#000" stroke-width="3.6"/>
<line x1="2265.9" y1="1759" x2="2265.9" y2="1766" stroke="#000" stroke-width="3.6"/>
<line x1="2270.5" y1="1759" x2="2270.5" y2="1766" stroke="#000" stroke-width="3.6"/>
<line x1="2275" y1="1759" x2="2275" y2="1766" stroke="#000" stroke-width="3.6"/>
<line x1="2279.5" y1="1759" x2="2279.5" y2="1766" stroke="#000" stroke-width="3.6"/>
<line x1="2284" y1="1759" x2="2284" y2="1766" stroke="#000" stroke-width="3.6"/>
<line x1="2288.4" y1="1759" x2="2288.4" y2="1766" stroke="#000" stroke-width="3.6"/>
<line x1="2292.7" y1="1759" x2="2292.7" y2="1766" stroke="#000" stroke-width="3.6"/>
<line x1="2297" y1="1759" x2="2297" y2="1773" stroke="#000" stroke-width="4.2"/>
<text x="2277.9" y="1811.4" font-family="Liberation Serif, serif" font-size="38.5" font-weight="700" fill="#000" textLength="36.6" lengthAdjust="spacingAndGlyphs">10</text>
<text transform="translate(1268.3,1558.2) rotate(-90)" x="-0.5" y="0" font-family="Liberation Serif, serif" font-size="48" font-weight="700" textLength="339.7" lengthAdjust="spacingAndGlyphs">Viscosity (mPa&#183;s)</text>
<text x="1786.5" y="1877.3" font-family="Liberation Serif, serif" font-size="46" font-weight="700" font-style="italic">γ</text>
<text x="1803.9" y="1876.8" font-family="Liberation Serif, serif" font-size="46" font-weight="700" fill="#000" textLength="19.5" lengthAdjust="spacingAndGlyphs">′</text>
<text x="1832.4" y="1877.3" font-family="Liberation Serif, serif" font-size="44.5" font-weight="400" fill="#000" textLength="18.7" lengthAdjust="spacingAndGlyphs">(</text>
<text x="1848" y="1877.3" font-family="Liberation Serif, serif" font-size="46" font-weight="700" fill="#000" textLength="23" lengthAdjust="spacingAndGlyphs">1</text>
<text x="1872.6" y="1877.3" font-family="Liberation Serif, serif" font-size="44.5" font-weight="400" fill="#000" textLength="12.8" lengthAdjust="spacingAndGlyphs">/</text>
<text x="1884.2" y="1877.3" font-family="Liberation Serif, serif" font-size="44.5" font-weight="400" fill="#000" textLength="19" lengthAdjust="spacingAndGlyphs">s</text>
<text x="1903" y="1877.3" font-family="Liberation Serif, serif" font-size="44.5" font-weight="400" fill="#000" textLength="16.6" lengthAdjust="spacingAndGlyphs">)</text>
<rect x="1857.8" y="1107.8" width="17" height="17" fill="#ea1c24"/>
<circle cx="1866.7" cy="1168" r="9.5" fill="#050505"/>
<text x="1920.1" y="1128.3" font-family="Liberation Serif, serif" font-size="41" font-weight="700" fill="#000" textLength="288.7" lengthAdjust="spacingAndGlyphs">With trichlorfon</text>
<text x="1909.5" y="1180.1" font-family="Liberation Serif, serif" font-size="41" font-weight="700" fill="#000" textLength="346.4" lengthAdjust="spacingAndGlyphs">Without trichlorfon</text>
</svg>
</body></html>
